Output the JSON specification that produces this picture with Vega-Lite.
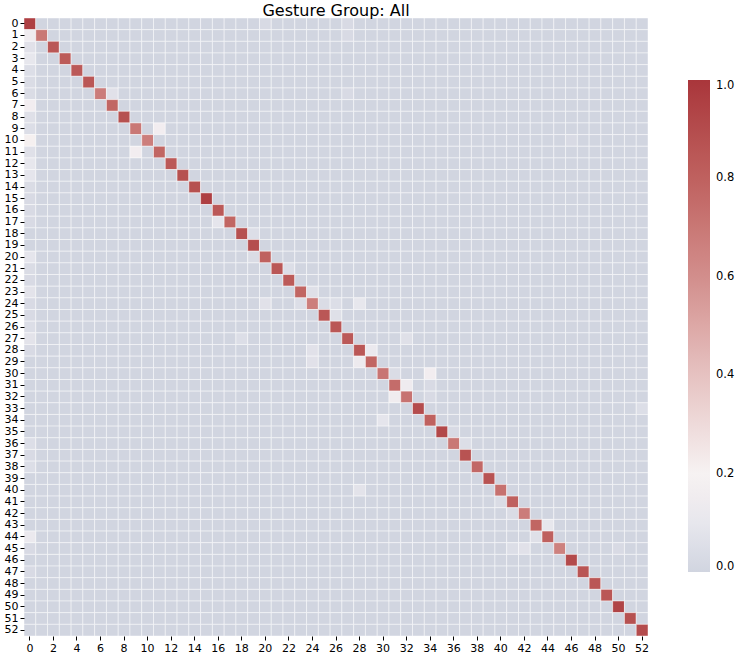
{"$schema":"https://vega.github.io/schema/vega-lite/v6.json","width":624,"height":618,"autosize":{"type":"none"},"padding":{"left":24,"top":18,"right":96,"bottom":26},"background":"white","title":{"text":"Gesture Group: All","fontSize":16,"font":"DejaVu Sans","fontWeight":"normal","color":"#000","offset":0,"dy":2},"config":{"view":{"stroke":null},"font":"DejaVu Sans"},
"data":{"values":[
{"r":0,"c":0,"v":0.96},{"r":0,"c":1,"v":0},{"r":0,"c":2,"v":0},{"r":0,"c":3,"v":0},{"r":0,"c":4,"v":0},{"r":0,"c":5,"v":0},{"r":0,"c":6,"v":0},{"r":0,"c":7,"v":0},{"r":0,"c":8,"v":0},{"r":0,"c":9,"v":0},{"r":0,"c":10,"v":0},{"r":0,"c":11,"v":0},{"r":0,"c":12,"v":0},{"r":0,"c":13,"v":0},{"r":0,"c":14,"v":0},{"r":0,"c":15,"v":0},{"r":0,"c":16,"v":0},{"r":0,"c":17,"v":0},{"r":0,"c":18,"v":0},{"r":0,"c":19,"v":0},{"r":0,"c":20,"v":0.03},{"r":0,"c":21,"v":0},{"r":0,"c":22,"v":0},{"r":0,"c":23,"v":0},{"r":0,"c":24,"v":0},{"r":0,"c":25,"v":0},{"r":0,"c":26,"v":0},{"r":0,"c":27,"v":0.03},{"r":0,"c":28,"v":0},{"r":0,"c":29,"v":0},{"r":0,"c":30,"v":0},{"r":0,"c":31,"v":0},{"r":0,"c":32,"v":0},{"r":0,"c":33,"v":0},{"r":0,"c":34,"v":0},{"r":0,"c":35,"v":0},{"r":0,"c":36,"v":0},{"r":0,"c":37,"v":0},{"r":0,"c":38,"v":0},{"r":0,"c":39,"v":0},{"r":0,"c":40,"v":0},{"r":0,"c":41,"v":0},{"r":0,"c":42,"v":0},{"r":0,"c":43,"v":0},{"r":0,"c":44,"v":0},{"r":0,"c":45,"v":0},{"r":0,"c":46,"v":0},{"r":0,"c":47,"v":0},{"r":0,"c":48,"v":0},{"r":0,"c":49,"v":0},{"r":0,"c":50,"v":0},{"r":0,"c":51,"v":0},{"r":0,"c":52,"v":0},
{"r":1,"c":0,"v":0.14},{"r":1,"c":1,"v":0.7},{"r":1,"c":2,"v":0},{"r":1,"c":3,"v":0},{"r":1,"c":4,"v":0},{"r":1,"c":5,"v":0},{"r":1,"c":6,"v":0},{"r":1,"c":7,"v":0},{"r":1,"c":8,"v":0},{"r":1,"c":9,"v":0},{"r":1,"c":10,"v":0},{"r":1,"c":11,"v":0},{"r":1,"c":12,"v":0},{"r":1,"c":13,"v":0},{"r":1,"c":14,"v":0},{"r":1,"c":15,"v":0},{"r":1,"c":16,"v":0},{"r":1,"c":17,"v":0},{"r":1,"c":18,"v":0},{"r":1,"c":19,"v":0},{"r":1,"c":20,"v":0},{"r":1,"c":21,"v":0},{"r":1,"c":22,"v":0},{"r":1,"c":23,"v":0},{"r":1,"c":24,"v":0},{"r":1,"c":25,"v":0},{"r":1,"c":26,"v":0},{"r":1,"c":27,"v":0.03},{"r":1,"c":28,"v":0},{"r":1,"c":29,"v":0},{"r":1,"c":30,"v":0},{"r":1,"c":31,"v":0},{"r":1,"c":32,"v":0},{"r":1,"c":33,"v":0},{"r":1,"c":34,"v":0},{"r":1,"c":35,"v":0},{"r":1,"c":36,"v":0},{"r":1,"c":37,"v":0},{"r":1,"c":38,"v":0},{"r":1,"c":39,"v":0},{"r":1,"c":40,"v":0},{"r":1,"c":41,"v":0},{"r":1,"c":42,"v":0},{"r":1,"c":43,"v":0},{"r":1,"c":44,"v":0},{"r":1,"c":45,"v":0},{"r":1,"c":46,"v":0},{"r":1,"c":47,"v":0},{"r":1,"c":48,"v":0},{"r":1,"c":49,"v":0},{"r":1,"c":50,"v":0},{"r":1,"c":51,"v":0},{"r":1,"c":52,"v":0},
{"r":2,"c":0,"v":0.07},{"r":2,"c":1,"v":0},{"r":2,"c":2,"v":0.85},{"r":2,"c":3,"v":0},{"r":2,"c":4,"v":0},{"r":2,"c":5,"v":0},{"r":2,"c":6,"v":0},{"r":2,"c":7,"v":0},{"r":2,"c":8,"v":0},{"r":2,"c":9,"v":0},{"r":2,"c":10,"v":0},{"r":2,"c":11,"v":0},{"r":2,"c":12,"v":0},{"r":2,"c":13,"v":0},{"r":2,"c":14,"v":0},{"r":2,"c":15,"v":0},{"r":2,"c":16,"v":0},{"r":2,"c":17,"v":0},{"r":2,"c":18,"v":0},{"r":2,"c":19,"v":0},{"r":2,"c":20,"v":0},{"r":2,"c":21,"v":0},{"r":2,"c":22,"v":0},{"r":2,"c":23,"v":0},{"r":2,"c":24,"v":0},{"r":2,"c":25,"v":0},{"r":2,"c":26,"v":0},{"r":2,"c":27,"v":0},{"r":2,"c":28,"v":0},{"r":2,"c":29,"v":0},{"r":2,"c":30,"v":0},{"r":2,"c":31,"v":0},{"r":2,"c":32,"v":0},{"r":2,"c":33,"v":0},{"r":2,"c":34,"v":0},{"r":2,"c":35,"v":0},{"r":2,"c":36,"v":0},{"r":2,"c":37,"v":0},{"r":2,"c":38,"v":0},{"r":2,"c":39,"v":0},{"r":2,"c":40,"v":0},{"r":2,"c":41,"v":0},{"r":2,"c":42,"v":0},{"r":2,"c":43,"v":0},{"r":2,"c":44,"v":0},{"r":2,"c":45,"v":0},{"r":2,"c":46,"v":0},{"r":2,"c":47,"v":0},{"r":2,"c":48,"v":0},{"r":2,"c":49,"v":0},{"r":2,"c":50,"v":0},{"r":2,"c":51,"v":0},{"r":2,"c":52,"v":0},
{"r":3,"c":0,"v":0.1},{"r":3,"c":1,"v":0},{"r":3,"c":2,"v":0},{"r":3,"c":3,"v":0.83},{"r":3,"c":4,"v":0},{"r":3,"c":5,"v":0},{"r":3,"c":6,"v":0},{"r":3,"c":7,"v":0},{"r":3,"c":8,"v":0},{"r":3,"c":9,"v":0},{"r":3,"c":10,"v":0},{"r":3,"c":11,"v":0},{"r":3,"c":12,"v":0},{"r":3,"c":13,"v":0},{"r":3,"c":14,"v":0},{"r":3,"c":15,"v":0},{"r":3,"c":16,"v":0},{"r":3,"c":17,"v":0},{"r":3,"c":18,"v":0},{"r":3,"c":19,"v":0},{"r":3,"c":20,"v":0},{"r":3,"c":21,"v":0},{"r":3,"c":22,"v":0},{"r":3,"c":23,"v":0},{"r":3,"c":24,"v":0},{"r":3,"c":25,"v":0},{"r":3,"c":26,"v":0},{"r":3,"c":27,"v":0},{"r":3,"c":28,"v":0},{"r":3,"c":29,"v":0},{"r":3,"c":30,"v":0},{"r":3,"c":31,"v":0},{"r":3,"c":32,"v":0},{"r":3,"c":33,"v":0},{"r":3,"c":34,"v":0},{"r":3,"c":35,"v":0},{"r":3,"c":36,"v":0},{"r":3,"c":37,"v":0},{"r":3,"c":38,"v":0},{"r":3,"c":39,"v":0},{"r":3,"c":40,"v":0},{"r":3,"c":41,"v":0},{"r":3,"c":42,"v":0},{"r":3,"c":43,"v":0},{"r":3,"c":44,"v":0},{"r":3,"c":45,"v":0},{"r":3,"c":46,"v":0},{"r":3,"c":47,"v":0},{"r":3,"c":48,"v":0},{"r":3,"c":49,"v":0},{"r":3,"c":50,"v":0},{"r":3,"c":51,"v":0},{"r":3,"c":52,"v":0},
{"r":4,"c":0,"v":0.05},{"r":4,"c":1,"v":0},{"r":4,"c":2,"v":0},{"r":4,"c":3,"v":0},{"r":4,"c":4,"v":0.84},{"r":4,"c":5,"v":0},{"r":4,"c":6,"v":0},{"r":4,"c":7,"v":0},{"r":4,"c":8,"v":0},{"r":4,"c":9,"v":0},{"r":4,"c":10,"v":0},{"r":4,"c":11,"v":0},{"r":4,"c":12,"v":0},{"r":4,"c":13,"v":0},{"r":4,"c":14,"v":0},{"r":4,"c":15,"v":0},{"r":4,"c":16,"v":0},{"r":4,"c":17,"v":0},{"r":4,"c":18,"v":0},{"r":4,"c":19,"v":0},{"r":4,"c":20,"v":0},{"r":4,"c":21,"v":0},{"r":4,"c":22,"v":0},{"r":4,"c":23,"v":0},{"r":4,"c":24,"v":0},{"r":4,"c":25,"v":0},{"r":4,"c":26,"v":0},{"r":4,"c":27,"v":0},{"r":4,"c":28,"v":0},{"r":4,"c":29,"v":0},{"r":4,"c":30,"v":0},{"r":4,"c":31,"v":0},{"r":4,"c":32,"v":0},{"r":4,"c":33,"v":0},{"r":4,"c":34,"v":0},{"r":4,"c":35,"v":0},{"r":4,"c":36,"v":0},{"r":4,"c":37,"v":0},{"r":4,"c":38,"v":0},{"r":4,"c":39,"v":0},{"r":4,"c":40,"v":0},{"r":4,"c":41,"v":0},{"r":4,"c":42,"v":0},{"r":4,"c":43,"v":0},{"r":4,"c":44,"v":0},{"r":4,"c":45,"v":0},{"r":4,"c":46,"v":0},{"r":4,"c":47,"v":0},{"r":4,"c":48,"v":0},{"r":4,"c":49,"v":0},{"r":4,"c":50,"v":0},{"r":4,"c":51,"v":0},{"r":4,"c":52,"v":0},
{"r":5,"c":0,"v":0.04},{"r":5,"c":1,"v":0},{"r":5,"c":2,"v":0},{"r":5,"c":3,"v":0},{"r":5,"c":4,"v":0},{"r":5,"c":5,"v":0.85},{"r":5,"c":6,"v":0},{"r":5,"c":7,"v":0},{"r":5,"c":8,"v":0},{"r":5,"c":9,"v":0},{"r":5,"c":10,"v":0},{"r":5,"c":11,"v":0},{"r":5,"c":12,"v":0},{"r":5,"c":13,"v":0},{"r":5,"c":14,"v":0},{"r":5,"c":15,"v":0},{"r":5,"c":16,"v":0},{"r":5,"c":17,"v":0},{"r":5,"c":18,"v":0},{"r":5,"c":19,"v":0},{"r":5,"c":20,"v":0},{"r":5,"c":21,"v":0},{"r":5,"c":22,"v":0},{"r":5,"c":23,"v":0},{"r":5,"c":24,"v":0},{"r":5,"c":25,"v":0},{"r":5,"c":26,"v":0},{"r":5,"c":27,"v":0},{"r":5,"c":28,"v":0},{"r":5,"c":29,"v":0},{"r":5,"c":30,"v":0},{"r":5,"c":31,"v":0},{"r":5,"c":32,"v":0},{"r":5,"c":33,"v":0},{"r":5,"c":34,"v":0},{"r":5,"c":35,"v":0},{"r":5,"c":36,"v":0},{"r":5,"c":37,"v":0},{"r":5,"c":38,"v":0},{"r":5,"c":39,"v":0},{"r":5,"c":40,"v":0},{"r":5,"c":41,"v":0},{"r":5,"c":42,"v":0},{"r":5,"c":43,"v":0},{"r":5,"c":44,"v":0},{"r":5,"c":45,"v":0},{"r":5,"c":46,"v":0},{"r":5,"c":47,"v":0},{"r":5,"c":48,"v":0},{"r":5,"c":49,"v":0},{"r":5,"c":50,"v":0},{"r":5,"c":51,"v":0},{"r":5,"c":52,"v":0},
{"r":6,"c":0,"v":0.04},{"r":6,"c":1,"v":0},{"r":6,"c":2,"v":0},{"r":6,"c":3,"v":0},{"r":6,"c":4,"v":0},{"r":6,"c":5,"v":0},{"r":6,"c":6,"v":0.68},{"r":6,"c":7,"v":0.07},{"r":6,"c":8,"v":0},{"r":6,"c":9,"v":0},{"r":6,"c":10,"v":0},{"r":6,"c":11,"v":0},{"r":6,"c":12,"v":0},{"r":6,"c":13,"v":0},{"r":6,"c":14,"v":0},{"r":6,"c":15,"v":0},{"r":6,"c":16,"v":0},{"r":6,"c":17,"v":0},{"r":6,"c":18,"v":0},{"r":6,"c":19,"v":0},{"r":6,"c":20,"v":0},{"r":6,"c":21,"v":0},{"r":6,"c":22,"v":0},{"r":6,"c":23,"v":0},{"r":6,"c":24,"v":0},{"r":6,"c":25,"v":0},{"r":6,"c":26,"v":0},{"r":6,"c":27,"v":0.03},{"r":6,"c":28,"v":0},{"r":6,"c":29,"v":0},{"r":6,"c":30,"v":0},{"r":6,"c":31,"v":0},{"r":6,"c":32,"v":0},{"r":6,"c":33,"v":0},{"r":6,"c":34,"v":0},{"r":6,"c":35,"v":0},{"r":6,"c":36,"v":0},{"r":6,"c":37,"v":0},{"r":6,"c":38,"v":0},{"r":6,"c":39,"v":0},{"r":6,"c":40,"v":0},{"r":6,"c":41,"v":0},{"r":6,"c":42,"v":0},{"r":6,"c":43,"v":0},{"r":6,"c":44,"v":0},{"r":6,"c":45,"v":0},{"r":6,"c":46,"v":0},{"r":6,"c":47,"v":0},{"r":6,"c":48,"v":0},{"r":6,"c":49,"v":0},{"r":6,"c":50,"v":0},{"r":6,"c":51,"v":0},{"r":6,"c":52,"v":0},
{"r":7,"c":0,"v":0.16},{"r":7,"c":1,"v":0},{"r":7,"c":2,"v":0},{"r":7,"c":3,"v":0},{"r":7,"c":4,"v":0},{"r":7,"c":5,"v":0},{"r":7,"c":6,"v":0},{"r":7,"c":7,"v":0.78},{"r":7,"c":8,"v":0},{"r":7,"c":9,"v":0},{"r":7,"c":10,"v":0},{"r":7,"c":11,"v":0},{"r":7,"c":12,"v":0},{"r":7,"c":13,"v":0},{"r":7,"c":14,"v":0},{"r":7,"c":15,"v":0},{"r":7,"c":16,"v":0},{"r":7,"c":17,"v":0},{"r":7,"c":18,"v":0},{"r":7,"c":19,"v":0},{"r":7,"c":20,"v":0},{"r":7,"c":21,"v":0},{"r":7,"c":22,"v":0},{"r":7,"c":23,"v":0},{"r":7,"c":24,"v":0},{"r":7,"c":25,"v":0},{"r":7,"c":26,"v":0},{"r":7,"c":27,"v":0},{"r":7,"c":28,"v":0},{"r":7,"c":29,"v":0},{"r":7,"c":30,"v":0},{"r":7,"c":31,"v":0},{"r":7,"c":32,"v":0},{"r":7,"c":33,"v":0},{"r":7,"c":34,"v":0},{"r":7,"c":35,"v":0},{"r":7,"c":36,"v":0},{"r":7,"c":37,"v":0},{"r":7,"c":38,"v":0},{"r":7,"c":39,"v":0},{"r":7,"c":40,"v":0},{"r":7,"c":41,"v":0},{"r":7,"c":42,"v":0},{"r":7,"c":43,"v":0},{"r":7,"c":44,"v":0},{"r":7,"c":45,"v":0},{"r":7,"c":46,"v":0},{"r":7,"c":47,"v":0},{"r":7,"c":48,"v":0},{"r":7,"c":49,"v":0},{"r":7,"c":50,"v":0},{"r":7,"c":51,"v":0},{"r":7,"c":52,"v":0},
{"r":8,"c":0,"v":0.06},{"r":8,"c":1,"v":0},{"r":8,"c":2,"v":0},{"r":8,"c":3,"v":0},{"r":8,"c":4,"v":0},{"r":8,"c":5,"v":0},{"r":8,"c":6,"v":0},{"r":8,"c":7,"v":0},{"r":8,"c":8,"v":0.88},{"r":8,"c":9,"v":0},{"r":8,"c":10,"v":0},{"r":8,"c":11,"v":0},{"r":8,"c":12,"v":0},{"r":8,"c":13,"v":0},{"r":8,"c":14,"v":0},{"r":8,"c":15,"v":0},{"r":8,"c":16,"v":0},{"r":8,"c":17,"v":0},{"r":8,"c":18,"v":0},{"r":8,"c":19,"v":0},{"r":8,"c":20,"v":0},{"r":8,"c":21,"v":0},{"r":8,"c":22,"v":0},{"r":8,"c":23,"v":0},{"r":8,"c":24,"v":0},{"r":8,"c":25,"v":0},{"r":8,"c":26,"v":0},{"r":8,"c":27,"v":0},{"r":8,"c":28,"v":0},{"r":8,"c":29,"v":0},{"r":8,"c":30,"v":0},{"r":8,"c":31,"v":0},{"r":8,"c":32,"v":0},{"r":8,"c":33,"v":0},{"r":8,"c":34,"v":0},{"r":8,"c":35,"v":0},{"r":8,"c":36,"v":0},{"r":8,"c":37,"v":0},{"r":8,"c":38,"v":0},{"r":8,"c":39,"v":0},{"r":8,"c":40,"v":0},{"r":8,"c":41,"v":0},{"r":8,"c":42,"v":0},{"r":8,"c":43,"v":0},{"r":8,"c":44,"v":0},{"r":8,"c":45,"v":0},{"r":8,"c":46,"v":0},{"r":8,"c":47,"v":0},{"r":8,"c":48,"v":0},{"r":8,"c":49,"v":0},{"r":8,"c":50,"v":0},{"r":8,"c":51,"v":0},{"r":8,"c":52,"v":0},
{"r":9,"c":0,"v":0.05},{"r":9,"c":1,"v":0},{"r":9,"c":2,"v":0},{"r":9,"c":3,"v":0},{"r":9,"c":4,"v":0},{"r":9,"c":5,"v":0},{"r":9,"c":6,"v":0},{"r":9,"c":7,"v":0},{"r":9,"c":8,"v":0},{"r":9,"c":9,"v":0.7},{"r":9,"c":10,"v":0},{"r":9,"c":11,"v":0.16},{"r":9,"c":12,"v":0},{"r":9,"c":13,"v":0},{"r":9,"c":14,"v":0},{"r":9,"c":15,"v":0},{"r":9,"c":16,"v":0},{"r":9,"c":17,"v":0},{"r":9,"c":18,"v":0},{"r":9,"c":19,"v":0},{"r":9,"c":20,"v":0},{"r":9,"c":21,"v":0},{"r":9,"c":22,"v":0},{"r":9,"c":23,"v":0},{"r":9,"c":24,"v":0},{"r":9,"c":25,"v":0},{"r":9,"c":26,"v":0},{"r":9,"c":27,"v":0},{"r":9,"c":28,"v":0},{"r":9,"c":29,"v":0},{"r":9,"c":30,"v":0},{"r":9,"c":31,"v":0},{"r":9,"c":32,"v":0},{"r":9,"c":33,"v":0},{"r":9,"c":34,"v":0},{"r":9,"c":35,"v":0},{"r":9,"c":36,"v":0},{"r":9,"c":37,"v":0},{"r":9,"c":38,"v":0},{"r":9,"c":39,"v":0},{"r":9,"c":40,"v":0},{"r":9,"c":41,"v":0},{"r":9,"c":42,"v":0},{"r":9,"c":43,"v":0},{"r":9,"c":44,"v":0},{"r":9,"c":45,"v":0},{"r":9,"c":46,"v":0},{"r":9,"c":47,"v":0},{"r":9,"c":48,"v":0},{"r":9,"c":49,"v":0},{"r":9,"c":50,"v":0},{"r":9,"c":51,"v":0},{"r":9,"c":52,"v":0},
{"r":10,"c":0,"v":0.21},{"r":10,"c":1,"v":0},{"r":10,"c":2,"v":0},{"r":10,"c":3,"v":0},{"r":10,"c":4,"v":0},{"r":10,"c":5,"v":0},{"r":10,"c":6,"v":0},{"r":10,"c":7,"v":0},{"r":10,"c":8,"v":0},{"r":10,"c":9,"v":0},{"r":10,"c":10,"v":0.67},{"r":10,"c":11,"v":0},{"r":10,"c":12,"v":0},{"r":10,"c":13,"v":0},{"r":10,"c":14,"v":0},{"r":10,"c":15,"v":0},{"r":10,"c":16,"v":0},{"r":10,"c":17,"v":0},{"r":10,"c":18,"v":0},{"r":10,"c":19,"v":0},{"r":10,"c":20,"v":0},{"r":10,"c":21,"v":0},{"r":10,"c":22,"v":0},{"r":10,"c":23,"v":0},{"r":10,"c":24,"v":0},{"r":10,"c":25,"v":0},{"r":10,"c":26,"v":0},{"r":10,"c":27,"v":0},{"r":10,"c":28,"v":0},{"r":10,"c":29,"v":0},{"r":10,"c":30,"v":0},{"r":10,"c":31,"v":0},{"r":10,"c":32,"v":0},{"r":10,"c":33,"v":0},{"r":10,"c":34,"v":0},{"r":10,"c":35,"v":0},{"r":10,"c":36,"v":0},{"r":10,"c":37,"v":0},{"r":10,"c":38,"v":0},{"r":10,"c":39,"v":0},{"r":10,"c":40,"v":0},{"r":10,"c":41,"v":0},{"r":10,"c":42,"v":0},{"r":10,"c":43,"v":0},{"r":10,"c":44,"v":0},{"r":10,"c":45,"v":0},{"r":10,"c":46,"v":0.03},{"r":10,"c":47,"v":0},{"r":10,"c":48,"v":0},{"r":10,"c":49,"v":0},{"r":10,"c":50,"v":0},{"r":10,"c":51,"v":0},{"r":10,"c":52,"v":0},
{"r":11,"c":0,"v":0.06},{"r":11,"c":1,"v":0},{"r":11,"c":2,"v":0},{"r":11,"c":3,"v":0},{"r":11,"c":4,"v":0},{"r":11,"c":5,"v":0},{"r":11,"c":6,"v":0},{"r":11,"c":7,"v":0},{"r":11,"c":8,"v":0},{"r":11,"c":9,"v":0.16},{"r":11,"c":10,"v":0},{"r":11,"c":11,"v":0.78},{"r":11,"c":12,"v":0},{"r":11,"c":13,"v":0},{"r":11,"c":14,"v":0},{"r":11,"c":15,"v":0},{"r":11,"c":16,"v":0},{"r":11,"c":17,"v":0},{"r":11,"c":18,"v":0},{"r":11,"c":19,"v":0},{"r":11,"c":20,"v":0},{"r":11,"c":21,"v":0},{"r":11,"c":22,"v":0},{"r":11,"c":23,"v":0},{"r":11,"c":24,"v":0},{"r":11,"c":25,"v":0},{"r":11,"c":26,"v":0},{"r":11,"c":27,"v":0},{"r":11,"c":28,"v":0},{"r":11,"c":29,"v":0},{"r":11,"c":30,"v":0},{"r":11,"c":31,"v":0},{"r":11,"c":32,"v":0},{"r":11,"c":33,"v":0},{"r":11,"c":34,"v":0},{"r":11,"c":35,"v":0},{"r":11,"c":36,"v":0},{"r":11,"c":37,"v":0},{"r":11,"c":38,"v":0},{"r":11,"c":39,"v":0},{"r":11,"c":40,"v":0},{"r":11,"c":41,"v":0},{"r":11,"c":42,"v":0},{"r":11,"c":43,"v":0},{"r":11,"c":44,"v":0},{"r":11,"c":45,"v":0},{"r":11,"c":46,"v":0},{"r":11,"c":47,"v":0},{"r":11,"c":48,"v":0},{"r":11,"c":49,"v":0},{"r":11,"c":50,"v":0},{"r":11,"c":51,"v":0},{"r":11,"c":52,"v":0},
{"r":12,"c":0,"v":0.1},{"r":12,"c":1,"v":0},{"r":12,"c":2,"v":0},{"r":12,"c":3,"v":0},{"r":12,"c":4,"v":0},{"r":12,"c":5,"v":0},{"r":12,"c":6,"v":0},{"r":12,"c":7,"v":0},{"r":12,"c":8,"v":0},{"r":12,"c":9,"v":0},{"r":12,"c":10,"v":0},{"r":12,"c":11,"v":0},{"r":12,"c":12,"v":0.84},{"r":12,"c":13,"v":0},{"r":12,"c":14,"v":0},{"r":12,"c":15,"v":0},{"r":12,"c":16,"v":0},{"r":12,"c":17,"v":0},{"r":12,"c":18,"v":0},{"r":12,"c":19,"v":0},{"r":12,"c":20,"v":0},{"r":12,"c":21,"v":0},{"r":12,"c":22,"v":0},{"r":12,"c":23,"v":0},{"r":12,"c":24,"v":0},{"r":12,"c":25,"v":0},{"r":12,"c":26,"v":0},{"r":12,"c":27,"v":0},{"r":12,"c":28,"v":0},{"r":12,"c":29,"v":0},{"r":12,"c":30,"v":0},{"r":12,"c":31,"v":0},{"r":12,"c":32,"v":0},{"r":12,"c":33,"v":0},{"r":12,"c":34,"v":0},{"r":12,"c":35,"v":0},{"r":12,"c":36,"v":0},{"r":12,"c":37,"v":0},{"r":12,"c":38,"v":0},{"r":12,"c":39,"v":0},{"r":12,"c":40,"v":0},{"r":12,"c":41,"v":0},{"r":12,"c":42,"v":0},{"r":12,"c":43,"v":0},{"r":12,"c":44,"v":0},{"r":12,"c":45,"v":0},{"r":12,"c":46,"v":0},{"r":12,"c":47,"v":0},{"r":12,"c":48,"v":0},{"r":12,"c":49,"v":0},{"r":12,"c":50,"v":0},{"r":12,"c":51,"v":0},{"r":12,"c":52,"v":0},
{"r":13,"c":0,"v":0.09},{"r":13,"c":1,"v":0},{"r":13,"c":2,"v":0},{"r":13,"c":3,"v":0},{"r":13,"c":4,"v":0},{"r":13,"c":5,"v":0},{"r":13,"c":6,"v":0},{"r":13,"c":7,"v":0},{"r":13,"c":8,"v":0},{"r":13,"c":9,"v":0},{"r":13,"c":10,"v":0},{"r":13,"c":11,"v":0},{"r":13,"c":12,"v":0},{"r":13,"c":13,"v":0.88},{"r":13,"c":14,"v":0},{"r":13,"c":15,"v":0},{"r":13,"c":16,"v":0},{"r":13,"c":17,"v":0},{"r":13,"c":18,"v":0},{"r":13,"c":19,"v":0},{"r":13,"c":20,"v":0},{"r":13,"c":21,"v":0},{"r":13,"c":22,"v":0},{"r":13,"c":23,"v":0},{"r":13,"c":24,"v":0},{"r":13,"c":25,"v":0},{"r":13,"c":26,"v":0},{"r":13,"c":27,"v":0},{"r":13,"c":28,"v":0},{"r":13,"c":29,"v":0},{"r":13,"c":30,"v":0},{"r":13,"c":31,"v":0},{"r":13,"c":32,"v":0},{"r":13,"c":33,"v":0},{"r":13,"c":34,"v":0},{"r":13,"c":35,"v":0},{"r":13,"c":36,"v":0},{"r":13,"c":37,"v":0},{"r":13,"c":38,"v":0},{"r":13,"c":39,"v":0},{"r":13,"c":40,"v":0},{"r":13,"c":41,"v":0},{"r":13,"c":42,"v":0},{"r":13,"c":43,"v":0},{"r":13,"c":44,"v":0},{"r":13,"c":45,"v":0},{"r":13,"c":46,"v":0},{"r":13,"c":47,"v":0},{"r":13,"c":48,"v":0},{"r":13,"c":49,"v":0},{"r":13,"c":50,"v":0},{"r":13,"c":51,"v":0},{"r":13,"c":52,"v":0},
{"r":14,"c":0,"v":0.04},{"r":14,"c":1,"v":0},{"r":14,"c":2,"v":0},{"r":14,"c":3,"v":0},{"r":14,"c":4,"v":0},{"r":14,"c":5,"v":0},{"r":14,"c":6,"v":0},{"r":14,"c":7,"v":0},{"r":14,"c":8,"v":0},{"r":14,"c":9,"v":0},{"r":14,"c":10,"v":0},{"r":14,"c":11,"v":0},{"r":14,"c":12,"v":0},{"r":14,"c":13,"v":0},{"r":14,"c":14,"v":0.88},{"r":14,"c":15,"v":0},{"r":14,"c":16,"v":0},{"r":14,"c":17,"v":0},{"r":14,"c":18,"v":0},{"r":14,"c":19,"v":0},{"r":14,"c":20,"v":0},{"r":14,"c":21,"v":0},{"r":14,"c":22,"v":0},{"r":14,"c":23,"v":0},{"r":14,"c":24,"v":0},{"r":14,"c":25,"v":0},{"r":14,"c":26,"v":0},{"r":14,"c":27,"v":0},{"r":14,"c":28,"v":0},{"r":14,"c":29,"v":0},{"r":14,"c":30,"v":0},{"r":14,"c":31,"v":0},{"r":14,"c":32,"v":0},{"r":14,"c":33,"v":0},{"r":14,"c":34,"v":0},{"r":14,"c":35,"v":0},{"r":14,"c":36,"v":0},{"r":14,"c":37,"v":0},{"r":14,"c":38,"v":0},{"r":14,"c":39,"v":0},{"r":14,"c":40,"v":0},{"r":14,"c":41,"v":0},{"r":14,"c":42,"v":0},{"r":14,"c":43,"v":0},{"r":14,"c":44,"v":0},{"r":14,"c":45,"v":0},{"r":14,"c":46,"v":0},{"r":14,"c":47,"v":0},{"r":14,"c":48,"v":0},{"r":14,"c":49,"v":0},{"r":14,"c":50,"v":0},{"r":14,"c":51,"v":0},{"r":14,"c":52,"v":0},
{"r":15,"c":0,"v":0.03},{"r":15,"c":1,"v":0},{"r":15,"c":2,"v":0},{"r":15,"c":3,"v":0},{"r":15,"c":4,"v":0},{"r":15,"c":5,"v":0},{"r":15,"c":6,"v":0},{"r":15,"c":7,"v":0},{"r":15,"c":8,"v":0},{"r":15,"c":9,"v":0},{"r":15,"c":10,"v":0},{"r":15,"c":11,"v":0},{"r":15,"c":12,"v":0},{"r":15,"c":13,"v":0},{"r":15,"c":14,"v":0},{"r":15,"c":15,"v":0.96},{"r":15,"c":16,"v":0},{"r":15,"c":17,"v":0},{"r":15,"c":18,"v":0},{"r":15,"c":19,"v":0},{"r":15,"c":20,"v":0},{"r":15,"c":21,"v":0},{"r":15,"c":22,"v":0},{"r":15,"c":23,"v":0},{"r":15,"c":24,"v":0},{"r":15,"c":25,"v":0},{"r":15,"c":26,"v":0},{"r":15,"c":27,"v":0},{"r":15,"c":28,"v":0},{"r":15,"c":29,"v":0},{"r":15,"c":30,"v":0},{"r":15,"c":31,"v":0},{"r":15,"c":32,"v":0},{"r":15,"c":33,"v":0},{"r":15,"c":34,"v":0},{"r":15,"c":35,"v":0},{"r":15,"c":36,"v":0},{"r":15,"c":37,"v":0},{"r":15,"c":38,"v":0},{"r":15,"c":39,"v":0},{"r":15,"c":40,"v":0},{"r":15,"c":41,"v":0},{"r":15,"c":42,"v":0},{"r":15,"c":43,"v":0},{"r":15,"c":44,"v":0},{"r":15,"c":45,"v":0},{"r":15,"c":46,"v":0},{"r":15,"c":47,"v":0},{"r":15,"c":48,"v":0},{"r":15,"c":49,"v":0},{"r":15,"c":50,"v":0},{"r":15,"c":51,"v":0},{"r":15,"c":52,"v":0},
{"r":16,"c":0,"v":0.03},{"r":16,"c":1,"v":0},{"r":16,"c":2,"v":0},{"r":16,"c":3,"v":0},{"r":16,"c":4,"v":0},{"r":16,"c":5,"v":0},{"r":16,"c":6,"v":0},{"r":16,"c":7,"v":0},{"r":16,"c":8,"v":0},{"r":16,"c":9,"v":0},{"r":16,"c":10,"v":0},{"r":16,"c":11,"v":0},{"r":16,"c":12,"v":0},{"r":16,"c":13,"v":0},{"r":16,"c":14,"v":0},{"r":16,"c":15,"v":0},{"r":16,"c":16,"v":0.84},{"r":16,"c":17,"v":0},{"r":16,"c":18,"v":0},{"r":16,"c":19,"v":0},{"r":16,"c":20,"v":0},{"r":16,"c":21,"v":0},{"r":16,"c":22,"v":0},{"r":16,"c":23,"v":0},{"r":16,"c":24,"v":0},{"r":16,"c":25,"v":0},{"r":16,"c":26,"v":0},{"r":16,"c":27,"v":0},{"r":16,"c":28,"v":0},{"r":16,"c":29,"v":0},{"r":16,"c":30,"v":0},{"r":16,"c":31,"v":0},{"r":16,"c":32,"v":0},{"r":16,"c":33,"v":0},{"r":16,"c":34,"v":0},{"r":16,"c":35,"v":0},{"r":16,"c":36,"v":0},{"r":16,"c":37,"v":0},{"r":16,"c":38,"v":0},{"r":16,"c":39,"v":0},{"r":16,"c":40,"v":0},{"r":16,"c":41,"v":0},{"r":16,"c":42,"v":0},{"r":16,"c":43,"v":0},{"r":16,"c":44,"v":0},{"r":16,"c":45,"v":0},{"r":16,"c":46,"v":0},{"r":16,"c":47,"v":0},{"r":16,"c":48,"v":0},{"r":16,"c":49,"v":0},{"r":16,"c":50,"v":0},{"r":16,"c":51,"v":0},{"r":16,"c":52,"v":0},
{"r":17,"c":0,"v":0.03},{"r":17,"c":1,"v":0},{"r":17,"c":2,"v":0},{"r":17,"c":3,"v":0},{"r":17,"c":4,"v":0},{"r":17,"c":5,"v":0},{"r":17,"c":6,"v":0},{"r":17,"c":7,"v":0},{"r":17,"c":8,"v":0},{"r":17,"c":9,"v":0},{"r":17,"c":10,"v":0},{"r":17,"c":11,"v":0},{"r":17,"c":12,"v":0},{"r":17,"c":13,"v":0},{"r":17,"c":14,"v":0},{"r":17,"c":15,"v":0},{"r":17,"c":16,"v":0.09},{"r":17,"c":17,"v":0.78},{"r":17,"c":18,"v":0},{"r":17,"c":19,"v":0},{"r":17,"c":20,"v":0},{"r":17,"c":21,"v":0},{"r":17,"c":22,"v":0},{"r":17,"c":23,"v":0},{"r":17,"c":24,"v":0},{"r":17,"c":25,"v":0},{"r":17,"c":26,"v":0},{"r":17,"c":27,"v":0},{"r":17,"c":28,"v":0},{"r":17,"c":29,"v":0},{"r":17,"c":30,"v":0},{"r":17,"c":31,"v":0},{"r":17,"c":32,"v":0},{"r":17,"c":33,"v":0},{"r":17,"c":34,"v":0},{"r":17,"c":35,"v":0},{"r":17,"c":36,"v":0},{"r":17,"c":37,"v":0},{"r":17,"c":38,"v":0},{"r":17,"c":39,"v":0},{"r":17,"c":40,"v":0},{"r":17,"c":41,"v":0},{"r":17,"c":42,"v":0},{"r":17,"c":43,"v":0},{"r":17,"c":44,"v":0},{"r":17,"c":45,"v":0},{"r":17,"c":46,"v":0},{"r":17,"c":47,"v":0},{"r":17,"c":48,"v":0},{"r":17,"c":49,"v":0},{"r":17,"c":50,"v":0},{"r":17,"c":51,"v":0},{"r":17,"c":52,"v":0},
{"r":18,"c":0,"v":0},{"r":18,"c":1,"v":0},{"r":18,"c":2,"v":0},{"r":18,"c":3,"v":0},{"r":18,"c":4,"v":0},{"r":18,"c":5,"v":0},{"r":18,"c":6,"v":0},{"r":18,"c":7,"v":0},{"r":18,"c":8,"v":0},{"r":18,"c":9,"v":0},{"r":18,"c":10,"v":0},{"r":18,"c":11,"v":0},{"r":18,"c":12,"v":0},{"r":18,"c":13,"v":0},{"r":18,"c":14,"v":0},{"r":18,"c":15,"v":0},{"r":18,"c":16,"v":0},{"r":18,"c":17,"v":0},{"r":18,"c":18,"v":0.88},{"r":18,"c":19,"v":0.05},{"r":18,"c":20,"v":0},{"r":18,"c":21,"v":0},{"r":18,"c":22,"v":0},{"r":18,"c":23,"v":0},{"r":18,"c":24,"v":0},{"r":18,"c":25,"v":0},{"r":18,"c":26,"v":0},{"r":18,"c":27,"v":0},{"r":18,"c":28,"v":0},{"r":18,"c":29,"v":0},{"r":18,"c":30,"v":0},{"r":18,"c":31,"v":0},{"r":18,"c":32,"v":0},{"r":18,"c":33,"v":0},{"r":18,"c":34,"v":0},{"r":18,"c":35,"v":0},{"r":18,"c":36,"v":0},{"r":18,"c":37,"v":0},{"r":18,"c":38,"v":0},{"r":18,"c":39,"v":0},{"r":18,"c":40,"v":0},{"r":18,"c":41,"v":0},{"r":18,"c":42,"v":0},{"r":18,"c":43,"v":0},{"r":18,"c":44,"v":0},{"r":18,"c":45,"v":0},{"r":18,"c":46,"v":0},{"r":18,"c":47,"v":0},{"r":18,"c":48,"v":0},{"r":18,"c":49,"v":0},{"r":18,"c":50,"v":0},{"r":18,"c":51,"v":0},{"r":18,"c":52,"v":0},
{"r":19,"c":0,"v":0},{"r":19,"c":1,"v":0},{"r":19,"c":2,"v":0},{"r":19,"c":3,"v":0},{"r":19,"c":4,"v":0},{"r":19,"c":5,"v":0},{"r":19,"c":6,"v":0},{"r":19,"c":7,"v":0},{"r":19,"c":8,"v":0},{"r":19,"c":9,"v":0},{"r":19,"c":10,"v":0},{"r":19,"c":11,"v":0},{"r":19,"c":12,"v":0},{"r":19,"c":13,"v":0},{"r":19,"c":14,"v":0},{"r":19,"c":15,"v":0},{"r":19,"c":16,"v":0},{"r":19,"c":17,"v":0},{"r":19,"c":18,"v":0},{"r":19,"c":19,"v":0.89},{"r":19,"c":20,"v":0},{"r":19,"c":21,"v":0},{"r":19,"c":22,"v":0},{"r":19,"c":23,"v":0},{"r":19,"c":24,"v":0},{"r":19,"c":25,"v":0},{"r":19,"c":26,"v":0},{"r":19,"c":27,"v":0},{"r":19,"c":28,"v":0},{"r":19,"c":29,"v":0},{"r":19,"c":30,"v":0},{"r":19,"c":31,"v":0},{"r":19,"c":32,"v":0},{"r":19,"c":33,"v":0},{"r":19,"c":34,"v":0},{"r":19,"c":35,"v":0},{"r":19,"c":36,"v":0},{"r":19,"c":37,"v":0},{"r":19,"c":38,"v":0},{"r":19,"c":39,"v":0},{"r":19,"c":40,"v":0},{"r":19,"c":41,"v":0},{"r":19,"c":42,"v":0},{"r":19,"c":43,"v":0},{"r":19,"c":44,"v":0},{"r":19,"c":45,"v":0},{"r":19,"c":46,"v":0},{"r":19,"c":47,"v":0},{"r":19,"c":48,"v":0},{"r":19,"c":49,"v":0},{"r":19,"c":50,"v":0},{"r":19,"c":51,"v":0},{"r":19,"c":52,"v":0},
{"r":20,"c":0,"v":0.09},{"r":20,"c":1,"v":0},{"r":20,"c":2,"v":0},{"r":20,"c":3,"v":0},{"r":20,"c":4,"v":0},{"r":20,"c":5,"v":0},{"r":20,"c":6,"v":0},{"r":20,"c":7,"v":0},{"r":20,"c":8,"v":0},{"r":20,"c":9,"v":0},{"r":20,"c":10,"v":0},{"r":20,"c":11,"v":0},{"r":20,"c":12,"v":0},{"r":20,"c":13,"v":0},{"r":20,"c":14,"v":0},{"r":20,"c":15,"v":0},{"r":20,"c":16,"v":0},{"r":20,"c":17,"v":0},{"r":20,"c":18,"v":0},{"r":20,"c":19,"v":0.04},{"r":20,"c":20,"v":0.8},{"r":20,"c":21,"v":0},{"r":20,"c":22,"v":0},{"r":20,"c":23,"v":0},{"r":20,"c":24,"v":0},{"r":20,"c":25,"v":0},{"r":20,"c":26,"v":0},{"r":20,"c":27,"v":0},{"r":20,"c":28,"v":0},{"r":20,"c":29,"v":0},{"r":20,"c":30,"v":0},{"r":20,"c":31,"v":0},{"r":20,"c":32,"v":0},{"r":20,"c":33,"v":0},{"r":20,"c":34,"v":0},{"r":20,"c":35,"v":0},{"r":20,"c":36,"v":0},{"r":20,"c":37,"v":0},{"r":20,"c":38,"v":0},{"r":20,"c":39,"v":0},{"r":20,"c":40,"v":0},{"r":20,"c":41,"v":0},{"r":20,"c":42,"v":0},{"r":20,"c":43,"v":0},{"r":20,"c":44,"v":0},{"r":20,"c":45,"v":0},{"r":20,"c":46,"v":0},{"r":20,"c":47,"v":0},{"r":20,"c":48,"v":0},{"r":20,"c":49,"v":0},{"r":20,"c":50,"v":0},{"r":20,"c":51,"v":0},{"r":20,"c":52,"v":0},
{"r":21,"c":0,"v":0.04},{"r":21,"c":1,"v":0},{"r":21,"c":2,"v":0},{"r":21,"c":3,"v":0},{"r":21,"c":4,"v":0},{"r":21,"c":5,"v":0},{"r":21,"c":6,"v":0},{"r":21,"c":7,"v":0},{"r":21,"c":8,"v":0},{"r":21,"c":9,"v":0},{"r":21,"c":10,"v":0},{"r":21,"c":11,"v":0},{"r":21,"c":12,"v":0},{"r":21,"c":13,"v":0},{"r":21,"c":14,"v":0},{"r":21,"c":15,"v":0},{"r":21,"c":16,"v":0},{"r":21,"c":17,"v":0},{"r":21,"c":18,"v":0},{"r":21,"c":19,"v":0},{"r":21,"c":20,"v":0},{"r":21,"c":21,"v":0.85},{"r":21,"c":22,"v":0.05},{"r":21,"c":23,"v":0},{"r":21,"c":24,"v":0},{"r":21,"c":25,"v":0},{"r":21,"c":26,"v":0},{"r":21,"c":27,"v":0},{"r":21,"c":28,"v":0},{"r":21,"c":29,"v":0},{"r":21,"c":30,"v":0},{"r":21,"c":31,"v":0},{"r":21,"c":32,"v":0},{"r":21,"c":33,"v":0},{"r":21,"c":34,"v":0},{"r":21,"c":35,"v":0},{"r":21,"c":36,"v":0},{"r":21,"c":37,"v":0},{"r":21,"c":38,"v":0},{"r":21,"c":39,"v":0},{"r":21,"c":40,"v":0},{"r":21,"c":41,"v":0},{"r":21,"c":42,"v":0},{"r":21,"c":43,"v":0},{"r":21,"c":44,"v":0},{"r":21,"c":45,"v":0},{"r":21,"c":46,"v":0},{"r":21,"c":47,"v":0},{"r":21,"c":48,"v":0},{"r":21,"c":49,"v":0},{"r":21,"c":50,"v":0},{"r":21,"c":51,"v":0},{"r":21,"c":52,"v":0},
{"r":22,"c":0,"v":0.03},{"r":22,"c":1,"v":0},{"r":22,"c":2,"v":0},{"r":22,"c":3,"v":0},{"r":22,"c":4,"v":0},{"r":22,"c":5,"v":0},{"r":22,"c":6,"v":0},{"r":22,"c":7,"v":0},{"r":22,"c":8,"v":0},{"r":22,"c":9,"v":0},{"r":22,"c":10,"v":0},{"r":22,"c":11,"v":0},{"r":22,"c":12,"v":0},{"r":22,"c":13,"v":0},{"r":22,"c":14,"v":0},{"r":22,"c":15,"v":0},{"r":22,"c":16,"v":0},{"r":22,"c":17,"v":0},{"r":22,"c":18,"v":0},{"r":22,"c":19,"v":0},{"r":22,"c":20,"v":0},{"r":22,"c":21,"v":0},{"r":22,"c":22,"v":0.83},{"r":22,"c":23,"v":0},{"r":22,"c":24,"v":0},{"r":22,"c":25,"v":0},{"r":22,"c":26,"v":0},{"r":22,"c":27,"v":0},{"r":22,"c":28,"v":0},{"r":22,"c":29,"v":0},{"r":22,"c":30,"v":0},{"r":22,"c":31,"v":0},{"r":22,"c":32,"v":0},{"r":22,"c":33,"v":0},{"r":22,"c":34,"v":0},{"r":22,"c":35,"v":0},{"r":22,"c":36,"v":0},{"r":22,"c":37,"v":0},{"r":22,"c":38,"v":0},{"r":22,"c":39,"v":0},{"r":22,"c":40,"v":0},{"r":22,"c":41,"v":0},{"r":22,"c":42,"v":0},{"r":22,"c":43,"v":0},{"r":22,"c":44,"v":0},{"r":22,"c":45,"v":0},{"r":22,"c":46,"v":0},{"r":22,"c":47,"v":0},{"r":22,"c":48,"v":0},{"r":22,"c":49,"v":0},{"r":22,"c":50,"v":0},{"r":22,"c":51,"v":0},{"r":22,"c":52,"v":0},
{"r":23,"c":0,"v":0.08},{"r":23,"c":1,"v":0},{"r":23,"c":2,"v":0},{"r":23,"c":3,"v":0},{"r":23,"c":4,"v":0},{"r":23,"c":5,"v":0},{"r":23,"c":6,"v":0},{"r":23,"c":7,"v":0},{"r":23,"c":8,"v":0},{"r":23,"c":9,"v":0},{"r":23,"c":10,"v":0},{"r":23,"c":11,"v":0},{"r":23,"c":12,"v":0},{"r":23,"c":13,"v":0},{"r":23,"c":14,"v":0},{"r":23,"c":15,"v":0},{"r":23,"c":16,"v":0},{"r":23,"c":17,"v":0},{"r":23,"c":18,"v":0},{"r":23,"c":19,"v":0},{"r":23,"c":20,"v":0},{"r":23,"c":21,"v":0},{"r":23,"c":22,"v":0},{"r":23,"c":23,"v":0.78},{"r":23,"c":24,"v":0.06},{"r":23,"c":25,"v":0},{"r":23,"c":26,"v":0},{"r":23,"c":27,"v":0},{"r":23,"c":28,"v":0},{"r":23,"c":29,"v":0},{"r":23,"c":30,"v":0},{"r":23,"c":31,"v":0},{"r":23,"c":32,"v":0},{"r":23,"c":33,"v":0},{"r":23,"c":34,"v":0},{"r":23,"c":35,"v":0},{"r":23,"c":36,"v":0},{"r":23,"c":37,"v":0},{"r":23,"c":38,"v":0},{"r":23,"c":39,"v":0},{"r":23,"c":40,"v":0},{"r":23,"c":41,"v":0},{"r":23,"c":42,"v":0},{"r":23,"c":43,"v":0},{"r":23,"c":44,"v":0},{"r":23,"c":45,"v":0},{"r":23,"c":46,"v":0},{"r":23,"c":47,"v":0},{"r":23,"c":48,"v":0},{"r":23,"c":49,"v":0},{"r":23,"c":50,"v":0},{"r":23,"c":51,"v":0},{"r":23,"c":52,"v":0},
{"r":24,"c":0,"v":0.03},{"r":24,"c":1,"v":0},{"r":24,"c":2,"v":0},{"r":24,"c":3,"v":0},{"r":24,"c":4,"v":0},{"r":24,"c":5,"v":0},{"r":24,"c":6,"v":0},{"r":24,"c":7,"v":0},{"r":24,"c":8,"v":0},{"r":24,"c":9,"v":0},{"r":24,"c":10,"v":0},{"r":24,"c":11,"v":0},{"r":24,"c":12,"v":0},{"r":24,"c":13,"v":0},{"r":24,"c":14,"v":0},{"r":24,"c":15,"v":0},{"r":24,"c":16,"v":0},{"r":24,"c":17,"v":0},{"r":24,"c":18,"v":0},{"r":24,"c":19,"v":0},{"r":24,"c":20,"v":0.07},{"r":24,"c":21,"v":0},{"r":24,"c":22,"v":0},{"r":24,"c":23,"v":0.05},{"r":24,"c":24,"v":0.67},{"r":24,"c":25,"v":0.04},{"r":24,"c":26,"v":0.05},{"r":24,"c":27,"v":0},{"r":24,"c":28,"v":0.1},{"r":24,"c":29,"v":0},{"r":24,"c":30,"v":0},{"r":24,"c":31,"v":0},{"r":24,"c":32,"v":0},{"r":24,"c":33,"v":0},{"r":24,"c":34,"v":0},{"r":24,"c":35,"v":0},{"r":24,"c":36,"v":0},{"r":24,"c":37,"v":0},{"r":24,"c":38,"v":0},{"r":24,"c":39,"v":0},{"r":24,"c":40,"v":0},{"r":24,"c":41,"v":0},{"r":24,"c":42,"v":0},{"r":24,"c":43,"v":0},{"r":24,"c":44,"v":0},{"r":24,"c":45,"v":0},{"r":24,"c":46,"v":0},{"r":24,"c":47,"v":0},{"r":24,"c":48,"v":0},{"r":24,"c":49,"v":0},{"r":24,"c":50,"v":0},{"r":24,"c":51,"v":0},{"r":24,"c":52,"v":0},
{"r":25,"c":0,"v":0.03},{"r":25,"c":1,"v":0},{"r":25,"c":2,"v":0},{"r":25,"c":3,"v":0},{"r":25,"c":4,"v":0},{"r":25,"c":5,"v":0},{"r":25,"c":6,"v":0},{"r":25,"c":7,"v":0},{"r":25,"c":8,"v":0},{"r":25,"c":9,"v":0},{"r":25,"c":10,"v":0},{"r":25,"c":11,"v":0},{"r":25,"c":12,"v":0},{"r":25,"c":13,"v":0},{"r":25,"c":14,"v":0},{"r":25,"c":15,"v":0},{"r":25,"c":16,"v":0},{"r":25,"c":17,"v":0},{"r":25,"c":18,"v":0},{"r":25,"c":19,"v":0},{"r":25,"c":20,"v":0},{"r":25,"c":21,"v":0},{"r":25,"c":22,"v":0},{"r":25,"c":23,"v":0},{"r":25,"c":24,"v":0},{"r":25,"c":25,"v":0.85},{"r":25,"c":26,"v":0.06},{"r":25,"c":27,"v":0},{"r":25,"c":28,"v":0},{"r":25,"c":29,"v":0},{"r":25,"c":30,"v":0},{"r":25,"c":31,"v":0},{"r":25,"c":32,"v":0},{"r":25,"c":33,"v":0},{"r":25,"c":34,"v":0},{"r":25,"c":35,"v":0},{"r":25,"c":36,"v":0},{"r":25,"c":37,"v":0},{"r":25,"c":38,"v":0},{"r":25,"c":39,"v":0},{"r":25,"c":40,"v":0},{"r":25,"c":41,"v":0},{"r":25,"c":42,"v":0},{"r":25,"c":43,"v":0},{"r":25,"c":44,"v":0},{"r":25,"c":45,"v":0},{"r":25,"c":46,"v":0},{"r":25,"c":47,"v":0},{"r":25,"c":48,"v":0},{"r":25,"c":49,"v":0},{"r":25,"c":50,"v":0},{"r":25,"c":51,"v":0},{"r":25,"c":52,"v":0},
{"r":26,"c":0,"v":0.05},{"r":26,"c":1,"v":0},{"r":26,"c":2,"v":0},{"r":26,"c":3,"v":0},{"r":26,"c":4,"v":0},{"r":26,"c":5,"v":0},{"r":26,"c":6,"v":0},{"r":26,"c":7,"v":0},{"r":26,"c":8,"v":0},{"r":26,"c":9,"v":0},{"r":26,"c":10,"v":0},{"r":26,"c":11,"v":0},{"r":26,"c":12,"v":0},{"r":26,"c":13,"v":0},{"r":26,"c":14,"v":0},{"r":26,"c":15,"v":0},{"r":26,"c":16,"v":0},{"r":26,"c":17,"v":0},{"r":26,"c":18,"v":0},{"r":26,"c":19,"v":0},{"r":26,"c":20,"v":0},{"r":26,"c":21,"v":0},{"r":26,"c":22,"v":0},{"r":26,"c":23,"v":0},{"r":26,"c":24,"v":0},{"r":26,"c":25,"v":0},{"r":26,"c":26,"v":0.85},{"r":26,"c":27,"v":0},{"r":26,"c":28,"v":0},{"r":26,"c":29,"v":0},{"r":26,"c":30,"v":0},{"r":26,"c":31,"v":0},{"r":26,"c":32,"v":0},{"r":26,"c":33,"v":0},{"r":26,"c":34,"v":0},{"r":26,"c":35,"v":0},{"r":26,"c":36,"v":0},{"r":26,"c":37,"v":0},{"r":26,"c":38,"v":0},{"r":26,"c":39,"v":0},{"r":26,"c":40,"v":0},{"r":26,"c":41,"v":0},{"r":26,"c":42,"v":0},{"r":26,"c":43,"v":0},{"r":26,"c":44,"v":0},{"r":26,"c":45,"v":0},{"r":26,"c":46,"v":0},{"r":26,"c":47,"v":0},{"r":26,"c":48,"v":0},{"r":26,"c":49,"v":0},{"r":26,"c":50,"v":0},{"r":26,"c":51,"v":0},{"r":26,"c":52,"v":0},
{"r":27,"c":0,"v":0.08},{"r":27,"c":1,"v":0},{"r":27,"c":2,"v":0},{"r":27,"c":3,"v":0},{"r":27,"c":4,"v":0},{"r":27,"c":5,"v":0},{"r":27,"c":6,"v":0},{"r":27,"c":7,"v":0},{"r":27,"c":8,"v":0},{"r":27,"c":9,"v":0},{"r":27,"c":10,"v":0},{"r":27,"c":11,"v":0},{"r":27,"c":12,"v":0},{"r":27,"c":13,"v":0},{"r":27,"c":14,"v":0},{"r":27,"c":15,"v":0},{"r":27,"c":16,"v":0},{"r":27,"c":17,"v":0},{"r":27,"c":18,"v":0.05},{"r":27,"c":19,"v":0},{"r":27,"c":20,"v":0},{"r":27,"c":21,"v":0},{"r":27,"c":22,"v":0},{"r":27,"c":23,"v":0},{"r":27,"c":24,"v":0},{"r":27,"c":25,"v":0},{"r":27,"c":26,"v":0},{"r":27,"c":27,"v":0.84},{"r":27,"c":28,"v":0},{"r":27,"c":29,"v":0},{"r":27,"c":30,"v":0},{"r":27,"c":31,"v":0},{"r":27,"c":32,"v":0.06},{"r":27,"c":33,"v":0},{"r":27,"c":34,"v":0},{"r":27,"c":35,"v":0},{"r":27,"c":36,"v":0},{"r":27,"c":37,"v":0},{"r":27,"c":38,"v":0},{"r":27,"c":39,"v":0},{"r":27,"c":40,"v":0},{"r":27,"c":41,"v":0},{"r":27,"c":42,"v":0},{"r":27,"c":43,"v":0},{"r":27,"c":44,"v":0},{"r":27,"c":45,"v":0},{"r":27,"c":46,"v":0},{"r":27,"c":47,"v":0},{"r":27,"c":48,"v":0},{"r":27,"c":49,"v":0},{"r":27,"c":50,"v":0},{"r":27,"c":51,"v":0},{"r":27,"c":52,"v":0},
{"r":28,"c":0,"v":0.03},{"r":28,"c":1,"v":0},{"r":28,"c":2,"v":0},{"r":28,"c":3,"v":0},{"r":28,"c":4,"v":0},{"r":28,"c":5,"v":0},{"r":28,"c":6,"v":0},{"r":28,"c":7,"v":0},{"r":28,"c":8,"v":0},{"r":28,"c":9,"v":0},{"r":28,"c":10,"v":0},{"r":28,"c":11,"v":0},{"r":28,"c":12,"v":0},{"r":28,"c":13,"v":0},{"r":28,"c":14,"v":0},{"r":28,"c":15,"v":0},{"r":28,"c":16,"v":0},{"r":28,"c":17,"v":0},{"r":28,"c":18,"v":0},{"r":28,"c":19,"v":0},{"r":28,"c":20,"v":0},{"r":28,"c":21,"v":0},{"r":28,"c":22,"v":0},{"r":28,"c":23,"v":0},{"r":28,"c":24,"v":0.07},{"r":28,"c":25,"v":0},{"r":28,"c":26,"v":0},{"r":28,"c":27,"v":0},{"r":28,"c":28,"v":0.85},{"r":28,"c":29,"v":0.12},{"r":28,"c":30,"v":0},{"r":28,"c":31,"v":0},{"r":28,"c":32,"v":0},{"r":28,"c":33,"v":0},{"r":28,"c":34,"v":0},{"r":28,"c":35,"v":0},{"r":28,"c":36,"v":0},{"r":28,"c":37,"v":0},{"r":28,"c":38,"v":0},{"r":28,"c":39,"v":0},{"r":28,"c":40,"v":0},{"r":28,"c":41,"v":0},{"r":28,"c":42,"v":0},{"r":28,"c":43,"v":0},{"r":28,"c":44,"v":0},{"r":28,"c":45,"v":0},{"r":28,"c":46,"v":0},{"r":28,"c":47,"v":0},{"r":28,"c":48,"v":0},{"r":28,"c":49,"v":0},{"r":28,"c":50,"v":0},{"r":28,"c":51,"v":0},{"r":28,"c":52,"v":0},
{"r":29,"c":0,"v":0},{"r":29,"c":1,"v":0},{"r":29,"c":2,"v":0},{"r":29,"c":3,"v":0},{"r":29,"c":4,"v":0},{"r":29,"c":5,"v":0},{"r":29,"c":6,"v":0},{"r":29,"c":7,"v":0},{"r":29,"c":8,"v":0},{"r":29,"c":9,"v":0},{"r":29,"c":10,"v":0},{"r":29,"c":11,"v":0},{"r":29,"c":12,"v":0},{"r":29,"c":13,"v":0},{"r":29,"c":14,"v":0},{"r":29,"c":15,"v":0},{"r":29,"c":16,"v":0},{"r":29,"c":17,"v":0},{"r":29,"c":18,"v":0},{"r":29,"c":19,"v":0},{"r":29,"c":20,"v":0},{"r":29,"c":21,"v":0},{"r":29,"c":22,"v":0},{"r":29,"c":23,"v":0},{"r":29,"c":24,"v":0.07},{"r":29,"c":25,"v":0},{"r":29,"c":26,"v":0},{"r":29,"c":27,"v":0},{"r":29,"c":28,"v":0.13},{"r":29,"c":29,"v":0.78},{"r":29,"c":30,"v":0},{"r":29,"c":31,"v":0},{"r":29,"c":32,"v":0},{"r":29,"c":33,"v":0},{"r":29,"c":34,"v":0},{"r":29,"c":35,"v":0},{"r":29,"c":36,"v":0},{"r":29,"c":37,"v":0},{"r":29,"c":38,"v":0},{"r":29,"c":39,"v":0},{"r":29,"c":40,"v":0},{"r":29,"c":41,"v":0},{"r":29,"c":42,"v":0},{"r":29,"c":43,"v":0},{"r":29,"c":44,"v":0},{"r":29,"c":45,"v":0},{"r":29,"c":46,"v":0},{"r":29,"c":47,"v":0},{"r":29,"c":48,"v":0},{"r":29,"c":49,"v":0},{"r":29,"c":50,"v":0},{"r":29,"c":51,"v":0},{"r":29,"c":52,"v":0},
{"r":30,"c":0,"v":0},{"r":30,"c":1,"v":0},{"r":30,"c":2,"v":0},{"r":30,"c":3,"v":0},{"r":30,"c":4,"v":0},{"r":30,"c":5,"v":0},{"r":30,"c":6,"v":0},{"r":30,"c":7,"v":0},{"r":30,"c":8,"v":0},{"r":30,"c":9,"v":0},{"r":30,"c":10,"v":0},{"r":30,"c":11,"v":0},{"r":30,"c":12,"v":0},{"r":30,"c":13,"v":0},{"r":30,"c":14,"v":0},{"r":30,"c":15,"v":0},{"r":30,"c":16,"v":0},{"r":30,"c":17,"v":0},{"r":30,"c":18,"v":0},{"r":30,"c":19,"v":0},{"r":30,"c":20,"v":0},{"r":30,"c":21,"v":0},{"r":30,"c":22,"v":0},{"r":30,"c":23,"v":0},{"r":30,"c":24,"v":0},{"r":30,"c":25,"v":0},{"r":30,"c":26,"v":0},{"r":30,"c":27,"v":0},{"r":30,"c":28,"v":0},{"r":30,"c":29,"v":0},{"r":30,"c":30,"v":0.71},{"r":30,"c":31,"v":0.04},{"r":30,"c":32,"v":0},{"r":30,"c":33,"v":0},{"r":30,"c":34,"v":0.16},{"r":30,"c":35,"v":0},{"r":30,"c":36,"v":0},{"r":30,"c":37,"v":0},{"r":30,"c":38,"v":0},{"r":30,"c":39,"v":0},{"r":30,"c":40,"v":0},{"r":30,"c":41,"v":0},{"r":30,"c":42,"v":0},{"r":30,"c":43,"v":0},{"r":30,"c":44,"v":0},{"r":30,"c":45,"v":0},{"r":30,"c":46,"v":0},{"r":30,"c":47,"v":0},{"r":30,"c":48,"v":0},{"r":30,"c":49,"v":0},{"r":30,"c":50,"v":0},{"r":30,"c":51,"v":0},{"r":30,"c":52,"v":0},
{"r":31,"c":0,"v":0},{"r":31,"c":1,"v":0},{"r":31,"c":2,"v":0},{"r":31,"c":3,"v":0},{"r":31,"c":4,"v":0},{"r":31,"c":5,"v":0},{"r":31,"c":6,"v":0},{"r":31,"c":7,"v":0},{"r":31,"c":8,"v":0},{"r":31,"c":9,"v":0},{"r":31,"c":10,"v":0},{"r":31,"c":11,"v":0},{"r":31,"c":12,"v":0},{"r":31,"c":13,"v":0},{"r":31,"c":14,"v":0},{"r":31,"c":15,"v":0},{"r":31,"c":16,"v":0},{"r":31,"c":17,"v":0},{"r":31,"c":18,"v":0},{"r":31,"c":19,"v":0},{"r":31,"c":20,"v":0},{"r":31,"c":21,"v":0},{"r":31,"c":22,"v":0},{"r":31,"c":23,"v":0},{"r":31,"c":24,"v":0},{"r":31,"c":25,"v":0},{"r":31,"c":26,"v":0},{"r":31,"c":27,"v":0},{"r":31,"c":28,"v":0},{"r":31,"c":29,"v":0},{"r":31,"c":30,"v":0},{"r":31,"c":31,"v":0.75},{"r":31,"c":32,"v":0.14},{"r":31,"c":33,"v":0},{"r":31,"c":34,"v":0.03},{"r":31,"c":35,"v":0},{"r":31,"c":36,"v":0},{"r":31,"c":37,"v":0},{"r":31,"c":38,"v":0},{"r":31,"c":39,"v":0},{"r":31,"c":40,"v":0},{"r":31,"c":41,"v":0},{"r":31,"c":42,"v":0},{"r":31,"c":43,"v":0},{"r":31,"c":44,"v":0},{"r":31,"c":45,"v":0},{"r":31,"c":46,"v":0},{"r":31,"c":47,"v":0},{"r":31,"c":48,"v":0},{"r":31,"c":49,"v":0},{"r":31,"c":50,"v":0},{"r":31,"c":51,"v":0},{"r":31,"c":52,"v":0},
{"r":32,"c":0,"v":0},{"r":32,"c":1,"v":0},{"r":32,"c":2,"v":0},{"r":32,"c":3,"v":0},{"r":32,"c":4,"v":0},{"r":32,"c":5,"v":0},{"r":32,"c":6,"v":0},{"r":32,"c":7,"v":0},{"r":32,"c":8,"v":0},{"r":32,"c":9,"v":0},{"r":32,"c":10,"v":0},{"r":32,"c":11,"v":0},{"r":32,"c":12,"v":0},{"r":32,"c":13,"v":0},{"r":32,"c":14,"v":0},{"r":32,"c":15,"v":0},{"r":32,"c":16,"v":0},{"r":32,"c":17,"v":0},{"r":32,"c":18,"v":0},{"r":32,"c":19,"v":0},{"r":32,"c":20,"v":0},{"r":32,"c":21,"v":0},{"r":32,"c":22,"v":0},{"r":32,"c":23,"v":0},{"r":32,"c":24,"v":0},{"r":32,"c":25,"v":0},{"r":32,"c":26,"v":0},{"r":32,"c":27,"v":0},{"r":32,"c":28,"v":0},{"r":32,"c":29,"v":0},{"r":32,"c":30,"v":0},{"r":32,"c":31,"v":0.15},{"r":32,"c":32,"v":0.72},{"r":32,"c":33,"v":0},{"r":32,"c":34,"v":0.03},{"r":32,"c":35,"v":0},{"r":32,"c":36,"v":0},{"r":32,"c":37,"v":0},{"r":32,"c":38,"v":0},{"r":32,"c":39,"v":0},{"r":32,"c":40,"v":0},{"r":32,"c":41,"v":0},{"r":32,"c":42,"v":0},{"r":32,"c":43,"v":0},{"r":32,"c":44,"v":0},{"r":32,"c":45,"v":0},{"r":32,"c":46,"v":0},{"r":32,"c":47,"v":0},{"r":32,"c":48,"v":0},{"r":32,"c":49,"v":0},{"r":32,"c":50,"v":0},{"r":32,"c":51,"v":0},{"r":32,"c":52,"v":0},
{"r":33,"c":0,"v":0},{"r":33,"c":1,"v":0},{"r":33,"c":2,"v":0},{"r":33,"c":3,"v":0},{"r":33,"c":4,"v":0},{"r":33,"c":5,"v":0},{"r":33,"c":6,"v":0},{"r":33,"c":7,"v":0},{"r":33,"c":8,"v":0},{"r":33,"c":9,"v":0},{"r":33,"c":10,"v":0},{"r":33,"c":11,"v":0},{"r":33,"c":12,"v":0},{"r":33,"c":13,"v":0},{"r":33,"c":14,"v":0},{"r":33,"c":15,"v":0},{"r":33,"c":16,"v":0},{"r":33,"c":17,"v":0},{"r":33,"c":18,"v":0},{"r":33,"c":19,"v":0},{"r":33,"c":20,"v":0},{"r":33,"c":21,"v":0},{"r":33,"c":22,"v":0},{"r":33,"c":23,"v":0},{"r":33,"c":24,"v":0},{"r":33,"c":25,"v":0},{"r":33,"c":26,"v":0},{"r":33,"c":27,"v":0},{"r":33,"c":28,"v":0},{"r":33,"c":29,"v":0},{"r":33,"c":30,"v":0},{"r":33,"c":31,"v":0},{"r":33,"c":32,"v":0},{"r":33,"c":33,"v":0.9},{"r":33,"c":34,"v":0},{"r":33,"c":35,"v":0},{"r":33,"c":36,"v":0},{"r":33,"c":37,"v":0},{"r":33,"c":38,"v":0},{"r":33,"c":39,"v":0},{"r":33,"c":40,"v":0},{"r":33,"c":41,"v":0},{"r":33,"c":42,"v":0},{"r":33,"c":43,"v":0},{"r":33,"c":44,"v":0},{"r":33,"c":45,"v":0},{"r":33,"c":46,"v":0},{"r":33,"c":47,"v":0},{"r":33,"c":48,"v":0},{"r":33,"c":49,"v":0},{"r":33,"c":50,"v":0},{"r":33,"c":51,"v":0},{"r":33,"c":52,"v":0.05},
{"r":34,"c":0,"v":0},{"r":34,"c":1,"v":0},{"r":34,"c":2,"v":0},{"r":34,"c":3,"v":0},{"r":34,"c":4,"v":0},{"r":34,"c":5,"v":0},{"r":34,"c":6,"v":0},{"r":34,"c":7,"v":0},{"r":34,"c":8,"v":0},{"r":34,"c":9,"v":0},{"r":34,"c":10,"v":0},{"r":34,"c":11,"v":0},{"r":34,"c":12,"v":0},{"r":34,"c":13,"v":0},{"r":34,"c":14,"v":0},{"r":34,"c":15,"v":0},{"r":34,"c":16,"v":0},{"r":34,"c":17,"v":0},{"r":34,"c":18,"v":0},{"r":34,"c":19,"v":0},{"r":34,"c":20,"v":0},{"r":34,"c":21,"v":0},{"r":34,"c":22,"v":0},{"r":34,"c":23,"v":0},{"r":34,"c":24,"v":0},{"r":34,"c":25,"v":0},{"r":34,"c":26,"v":0},{"r":34,"c":27,"v":0},{"r":34,"c":28,"v":0},{"r":34,"c":29,"v":0},{"r":34,"c":30,"v":0.09},{"r":34,"c":31,"v":0},{"r":34,"c":32,"v":0},{"r":34,"c":33,"v":0},{"r":34,"c":34,"v":0.8},{"r":34,"c":35,"v":0},{"r":34,"c":36,"v":0},{"r":34,"c":37,"v":0},{"r":34,"c":38,"v":0},{"r":34,"c":39,"v":0},{"r":34,"c":40,"v":0},{"r":34,"c":41,"v":0},{"r":34,"c":42,"v":0},{"r":34,"c":43,"v":0},{"r":34,"c":44,"v":0},{"r":34,"c":45,"v":0},{"r":34,"c":46,"v":0},{"r":34,"c":47,"v":0},{"r":34,"c":48,"v":0},{"r":34,"c":49,"v":0},{"r":34,"c":50,"v":0},{"r":34,"c":51,"v":0},{"r":34,"c":52,"v":0},
{"r":35,"c":0,"v":0},{"r":35,"c":1,"v":0},{"r":35,"c":2,"v":0},{"r":35,"c":3,"v":0},{"r":35,"c":4,"v":0},{"r":35,"c":5,"v":0},{"r":35,"c":6,"v":0},{"r":35,"c":7,"v":0},{"r":35,"c":8,"v":0},{"r":35,"c":9,"v":0},{"r":35,"c":10,"v":0},{"r":35,"c":11,"v":0},{"r":35,"c":12,"v":0},{"r":35,"c":13,"v":0},{"r":35,"c":14,"v":0},{"r":35,"c":15,"v":0},{"r":35,"c":16,"v":0},{"r":35,"c":17,"v":0},{"r":35,"c":18,"v":0},{"r":35,"c":19,"v":0},{"r":35,"c":20,"v":0},{"r":35,"c":21,"v":0},{"r":35,"c":22,"v":0},{"r":35,"c":23,"v":0},{"r":35,"c":24,"v":0},{"r":35,"c":25,"v":0},{"r":35,"c":26,"v":0},{"r":35,"c":27,"v":0},{"r":35,"c":28,"v":0},{"r":35,"c":29,"v":0},{"r":35,"c":30,"v":0},{"r":35,"c":31,"v":0},{"r":35,"c":32,"v":0},{"r":35,"c":33,"v":0},{"r":35,"c":34,"v":0},{"r":35,"c":35,"v":0.92},{"r":35,"c":36,"v":0.03},{"r":35,"c":37,"v":0},{"r":35,"c":38,"v":0},{"r":35,"c":39,"v":0},{"r":35,"c":40,"v":0},{"r":35,"c":41,"v":0},{"r":35,"c":42,"v":0},{"r":35,"c":43,"v":0},{"r":35,"c":44,"v":0},{"r":35,"c":45,"v":0},{"r":35,"c":46,"v":0},{"r":35,"c":47,"v":0},{"r":35,"c":48,"v":0},{"r":35,"c":49,"v":0},{"r":35,"c":50,"v":0},{"r":35,"c":51,"v":0},{"r":35,"c":52,"v":0},
{"r":36,"c":0,"v":0.05},{"r":36,"c":1,"v":0},{"r":36,"c":2,"v":0},{"r":36,"c":3,"v":0},{"r":36,"c":4,"v":0},{"r":36,"c":5,"v":0},{"r":36,"c":6,"v":0},{"r":36,"c":7,"v":0},{"r":36,"c":8,"v":0},{"r":36,"c":9,"v":0},{"r":36,"c":10,"v":0},{"r":36,"c":11,"v":0},{"r":36,"c":12,"v":0},{"r":36,"c":13,"v":0},{"r":36,"c":14,"v":0},{"r":36,"c":15,"v":0},{"r":36,"c":16,"v":0},{"r":36,"c":17,"v":0},{"r":36,"c":18,"v":0},{"r":36,"c":19,"v":0},{"r":36,"c":20,"v":0},{"r":36,"c":21,"v":0},{"r":36,"c":22,"v":0},{"r":36,"c":23,"v":0},{"r":36,"c":24,"v":0},{"r":36,"c":25,"v":0},{"r":36,"c":26,"v":0},{"r":36,"c":27,"v":0},{"r":36,"c":28,"v":0},{"r":36,"c":29,"v":0},{"r":36,"c":30,"v":0},{"r":36,"c":31,"v":0},{"r":36,"c":32,"v":0},{"r":36,"c":33,"v":0},{"r":36,"c":34,"v":0},{"r":36,"c":35,"v":0},{"r":36,"c":36,"v":0.7},{"r":36,"c":37,"v":0.05},{"r":36,"c":38,"v":0},{"r":36,"c":39,"v":0},{"r":36,"c":40,"v":0},{"r":36,"c":41,"v":0},{"r":36,"c":42,"v":0},{"r":36,"c":43,"v":0},{"r":36,"c":44,"v":0},{"r":36,"c":45,"v":0},{"r":36,"c":46,"v":0},{"r":36,"c":47,"v":0},{"r":36,"c":48,"v":0},{"r":36,"c":49,"v":0},{"r":36,"c":50,"v":0},{"r":36,"c":51,"v":0},{"r":36,"c":52,"v":0},
{"r":37,"c":0,"v":0.03},{"r":37,"c":1,"v":0},{"r":37,"c":2,"v":0},{"r":37,"c":3,"v":0},{"r":37,"c":4,"v":0},{"r":37,"c":5,"v":0},{"r":37,"c":6,"v":0},{"r":37,"c":7,"v":0},{"r":37,"c":8,"v":0},{"r":37,"c":9,"v":0},{"r":37,"c":10,"v":0},{"r":37,"c":11,"v":0},{"r":37,"c":12,"v":0},{"r":37,"c":13,"v":0},{"r":37,"c":14,"v":0},{"r":37,"c":15,"v":0},{"r":37,"c":16,"v":0},{"r":37,"c":17,"v":0},{"r":37,"c":18,"v":0},{"r":37,"c":19,"v":0},{"r":37,"c":20,"v":0},{"r":37,"c":21,"v":0},{"r":37,"c":22,"v":0},{"r":37,"c":23,"v":0},{"r":37,"c":24,"v":0},{"r":37,"c":25,"v":0},{"r":37,"c":26,"v":0},{"r":37,"c":27,"v":0},{"r":37,"c":28,"v":0},{"r":37,"c":29,"v":0},{"r":37,"c":30,"v":0},{"r":37,"c":31,"v":0},{"r":37,"c":32,"v":0},{"r":37,"c":33,"v":0},{"r":37,"c":34,"v":0},{"r":37,"c":35,"v":0},{"r":37,"c":36,"v":0},{"r":37,"c":37,"v":0.87},{"r":37,"c":38,"v":0},{"r":37,"c":39,"v":0},{"r":37,"c":40,"v":0},{"r":37,"c":41,"v":0},{"r":37,"c":42,"v":0},{"r":37,"c":43,"v":0},{"r":37,"c":44,"v":0},{"r":37,"c":45,"v":0},{"r":37,"c":46,"v":0},{"r":37,"c":47,"v":0},{"r":37,"c":48,"v":0},{"r":37,"c":49,"v":0},{"r":37,"c":50,"v":0},{"r":37,"c":51,"v":0},{"r":37,"c":52,"v":0},
{"r":38,"c":0,"v":0.05},{"r":38,"c":1,"v":0},{"r":38,"c":2,"v":0},{"r":38,"c":3,"v":0},{"r":38,"c":4,"v":0},{"r":38,"c":5,"v":0},{"r":38,"c":6,"v":0},{"r":38,"c":7,"v":0},{"r":38,"c":8,"v":0},{"r":38,"c":9,"v":0},{"r":38,"c":10,"v":0},{"r":38,"c":11,"v":0},{"r":38,"c":12,"v":0},{"r":38,"c":13,"v":0},{"r":38,"c":14,"v":0},{"r":38,"c":15,"v":0},{"r":38,"c":16,"v":0},{"r":38,"c":17,"v":0},{"r":38,"c":18,"v":0},{"r":38,"c":19,"v":0},{"r":38,"c":20,"v":0},{"r":38,"c":21,"v":0},{"r":38,"c":22,"v":0},{"r":38,"c":23,"v":0},{"r":38,"c":24,"v":0},{"r":38,"c":25,"v":0},{"r":38,"c":26,"v":0},{"r":38,"c":27,"v":0},{"r":38,"c":28,"v":0},{"r":38,"c":29,"v":0},{"r":38,"c":30,"v":0},{"r":38,"c":31,"v":0},{"r":38,"c":32,"v":0},{"r":38,"c":33,"v":0},{"r":38,"c":34,"v":0},{"r":38,"c":35,"v":0},{"r":38,"c":36,"v":0},{"r":38,"c":37,"v":0},{"r":38,"c":38,"v":0.77},{"r":38,"c":39,"v":0},{"r":38,"c":40,"v":0},{"r":38,"c":41,"v":0},{"r":38,"c":42,"v":0},{"r":38,"c":43,"v":0},{"r":38,"c":44,"v":0},{"r":38,"c":45,"v":0},{"r":38,"c":46,"v":0},{"r":38,"c":47,"v":0},{"r":38,"c":48,"v":0},{"r":38,"c":49,"v":0},{"r":38,"c":50,"v":0},{"r":38,"c":51,"v":0},{"r":38,"c":52,"v":0},
{"r":39,"c":0,"v":0},{"r":39,"c":1,"v":0},{"r":39,"c":2,"v":0},{"r":39,"c":3,"v":0},{"r":39,"c":4,"v":0},{"r":39,"c":5,"v":0},{"r":39,"c":6,"v":0},{"r":39,"c":7,"v":0},{"r":39,"c":8,"v":0},{"r":39,"c":9,"v":0},{"r":39,"c":10,"v":0},{"r":39,"c":11,"v":0},{"r":39,"c":12,"v":0},{"r":39,"c":13,"v":0},{"r":39,"c":14,"v":0},{"r":39,"c":15,"v":0},{"r":39,"c":16,"v":0},{"r":39,"c":17,"v":0},{"r":39,"c":18,"v":0},{"r":39,"c":19,"v":0},{"r":39,"c":20,"v":0},{"r":39,"c":21,"v":0},{"r":39,"c":22,"v":0},{"r":39,"c":23,"v":0},{"r":39,"c":24,"v":0},{"r":39,"c":25,"v":0},{"r":39,"c":26,"v":0},{"r":39,"c":27,"v":0},{"r":39,"c":28,"v":0},{"r":39,"c":29,"v":0},{"r":39,"c":30,"v":0},{"r":39,"c":31,"v":0},{"r":39,"c":32,"v":0},{"r":39,"c":33,"v":0},{"r":39,"c":34,"v":0},{"r":39,"c":35,"v":0},{"r":39,"c":36,"v":0},{"r":39,"c":37,"v":0},{"r":39,"c":38,"v":0},{"r":39,"c":39,"v":0.87},{"r":39,"c":40,"v":0},{"r":39,"c":41,"v":0},{"r":39,"c":42,"v":0},{"r":39,"c":43,"v":0},{"r":39,"c":44,"v":0},{"r":39,"c":45,"v":0},{"r":39,"c":46,"v":0},{"r":39,"c":47,"v":0},{"r":39,"c":48,"v":0},{"r":39,"c":49,"v":0},{"r":39,"c":50,"v":0},{"r":39,"c":51,"v":0},{"r":39,"c":52,"v":0},
{"r":40,"c":0,"v":0},{"r":40,"c":1,"v":0},{"r":40,"c":2,"v":0},{"r":40,"c":3,"v":0},{"r":40,"c":4,"v":0},{"r":40,"c":5,"v":0},{"r":40,"c":6,"v":0},{"r":40,"c":7,"v":0},{"r":40,"c":8,"v":0},{"r":40,"c":9,"v":0},{"r":40,"c":10,"v":0},{"r":40,"c":11,"v":0},{"r":40,"c":12,"v":0},{"r":40,"c":13,"v":0},{"r":40,"c":14,"v":0},{"r":40,"c":15,"v":0},{"r":40,"c":16,"v":0},{"r":40,"c":17,"v":0},{"r":40,"c":18,"v":0},{"r":40,"c":19,"v":0},{"r":40,"c":20,"v":0},{"r":40,"c":21,"v":0},{"r":40,"c":22,"v":0},{"r":40,"c":23,"v":0},{"r":40,"c":24,"v":0},{"r":40,"c":25,"v":0},{"r":40,"c":26,"v":0},{"r":40,"c":27,"v":0},{"r":40,"c":28,"v":0.08},{"r":40,"c":29,"v":0},{"r":40,"c":30,"v":0},{"r":40,"c":31,"v":0},{"r":40,"c":32,"v":0},{"r":40,"c":33,"v":0},{"r":40,"c":34,"v":0},{"r":40,"c":35,"v":0},{"r":40,"c":36,"v":0},{"r":40,"c":37,"v":0},{"r":40,"c":38,"v":0},{"r":40,"c":39,"v":0},{"r":40,"c":40,"v":0.73},{"r":40,"c":41,"v":0},{"r":40,"c":42,"v":0},{"r":40,"c":43,"v":0},{"r":40,"c":44,"v":0},{"r":40,"c":45,"v":0},{"r":40,"c":46,"v":0},{"r":40,"c":47,"v":0},{"r":40,"c":48,"v":0},{"r":40,"c":49,"v":0},{"r":40,"c":50,"v":0},{"r":40,"c":51,"v":0},{"r":40,"c":52,"v":0},
{"r":41,"c":0,"v":0},{"r":41,"c":1,"v":0},{"r":41,"c":2,"v":0},{"r":41,"c":3,"v":0},{"r":41,"c":4,"v":0},{"r":41,"c":5,"v":0},{"r":41,"c":6,"v":0},{"r":41,"c":7,"v":0},{"r":41,"c":8,"v":0},{"r":41,"c":9,"v":0},{"r":41,"c":10,"v":0},{"r":41,"c":11,"v":0},{"r":41,"c":12,"v":0},{"r":41,"c":13,"v":0},{"r":41,"c":14,"v":0},{"r":41,"c":15,"v":0},{"r":41,"c":16,"v":0},{"r":41,"c":17,"v":0},{"r":41,"c":18,"v":0},{"r":41,"c":19,"v":0},{"r":41,"c":20,"v":0},{"r":41,"c":21,"v":0},{"r":41,"c":22,"v":0},{"r":41,"c":23,"v":0},{"r":41,"c":24,"v":0},{"r":41,"c":25,"v":0},{"r":41,"c":26,"v":0},{"r":41,"c":27,"v":0},{"r":41,"c":28,"v":0},{"r":41,"c":29,"v":0},{"r":41,"c":30,"v":0},{"r":41,"c":31,"v":0},{"r":41,"c":32,"v":0},{"r":41,"c":33,"v":0},{"r":41,"c":34,"v":0},{"r":41,"c":35,"v":0},{"r":41,"c":36,"v":0},{"r":41,"c":37,"v":0},{"r":41,"c":38,"v":0},{"r":41,"c":39,"v":0},{"r":41,"c":40,"v":0.04},{"r":41,"c":41,"v":0.8},{"r":41,"c":42,"v":0},{"r":41,"c":43,"v":0},{"r":41,"c":44,"v":0},{"r":41,"c":45,"v":0},{"r":41,"c":46,"v":0},{"r":41,"c":47,"v":0},{"r":41,"c":48,"v":0},{"r":41,"c":49,"v":0},{"r":41,"c":50,"v":0},{"r":41,"c":51,"v":0},{"r":41,"c":52,"v":0},
{"r":42,"c":0,"v":0},{"r":42,"c":1,"v":0},{"r":42,"c":2,"v":0},{"r":42,"c":3,"v":0},{"r":42,"c":4,"v":0},{"r":42,"c":5,"v":0},{"r":42,"c":6,"v":0},{"r":42,"c":7,"v":0},{"r":42,"c":8,"v":0},{"r":42,"c":9,"v":0},{"r":42,"c":10,"v":0},{"r":42,"c":11,"v":0},{"r":42,"c":12,"v":0},{"r":42,"c":13,"v":0},{"r":42,"c":14,"v":0},{"r":42,"c":15,"v":0},{"r":42,"c":16,"v":0},{"r":42,"c":17,"v":0},{"r":42,"c":18,"v":0},{"r":42,"c":19,"v":0},{"r":42,"c":20,"v":0},{"r":42,"c":21,"v":0},{"r":42,"c":22,"v":0},{"r":42,"c":23,"v":0},{"r":42,"c":24,"v":0},{"r":42,"c":25,"v":0},{"r":42,"c":26,"v":0},{"r":42,"c":27,"v":0},{"r":42,"c":28,"v":0},{"r":42,"c":29,"v":0},{"r":42,"c":30,"v":0},{"r":42,"c":31,"v":0},{"r":42,"c":32,"v":0},{"r":42,"c":33,"v":0},{"r":42,"c":34,"v":0},{"r":42,"c":35,"v":0},{"r":42,"c":36,"v":0},{"r":42,"c":37,"v":0},{"r":42,"c":38,"v":0},{"r":42,"c":39,"v":0},{"r":42,"c":40,"v":0},{"r":42,"c":41,"v":0.04},{"r":42,"c":42,"v":0.68},{"r":42,"c":43,"v":0},{"r":42,"c":44,"v":0},{"r":42,"c":45,"v":0},{"r":42,"c":46,"v":0},{"r":42,"c":47,"v":0},{"r":42,"c":48,"v":0},{"r":42,"c":49,"v":0},{"r":42,"c":50,"v":0},{"r":42,"c":51,"v":0},{"r":42,"c":52,"v":0},
{"r":43,"c":0,"v":0},{"r":43,"c":1,"v":0},{"r":43,"c":2,"v":0},{"r":43,"c":3,"v":0},{"r":43,"c":4,"v":0},{"r":43,"c":5,"v":0},{"r":43,"c":6,"v":0},{"r":43,"c":7,"v":0},{"r":43,"c":8,"v":0},{"r":43,"c":9,"v":0},{"r":43,"c":10,"v":0},{"r":43,"c":11,"v":0},{"r":43,"c":12,"v":0},{"r":43,"c":13,"v":0},{"r":43,"c":14,"v":0},{"r":43,"c":15,"v":0},{"r":43,"c":16,"v":0},{"r":43,"c":17,"v":0},{"r":43,"c":18,"v":0},{"r":43,"c":19,"v":0},{"r":43,"c":20,"v":0},{"r":43,"c":21,"v":0},{"r":43,"c":22,"v":0},{"r":43,"c":23,"v":0},{"r":43,"c":24,"v":0},{"r":43,"c":25,"v":0},{"r":43,"c":26,"v":0},{"r":43,"c":27,"v":0},{"r":43,"c":28,"v":0},{"r":43,"c":29,"v":0},{"r":43,"c":30,"v":0},{"r":43,"c":31,"v":0},{"r":43,"c":32,"v":0},{"r":43,"c":33,"v":0},{"r":43,"c":34,"v":0},{"r":43,"c":35,"v":0},{"r":43,"c":36,"v":0},{"r":43,"c":37,"v":0},{"r":43,"c":38,"v":0},{"r":43,"c":39,"v":0},{"r":43,"c":40,"v":0},{"r":43,"c":41,"v":0},{"r":43,"c":42,"v":0},{"r":43,"c":43,"v":0.78},{"r":43,"c":44,"v":0.1},{"r":43,"c":45,"v":0},{"r":43,"c":46,"v":0},{"r":43,"c":47,"v":0},{"r":43,"c":48,"v":0},{"r":43,"c":49,"v":0},{"r":43,"c":50,"v":0},{"r":43,"c":51,"v":0},{"r":43,"c":52,"v":0},
{"r":44,"c":0,"v":0.12},{"r":44,"c":1,"v":0},{"r":44,"c":2,"v":0},{"r":44,"c":3,"v":0},{"r":44,"c":4,"v":0},{"r":44,"c":5,"v":0},{"r":44,"c":6,"v":0},{"r":44,"c":7,"v":0},{"r":44,"c":8,"v":0},{"r":44,"c":9,"v":0},{"r":44,"c":10,"v":0},{"r":44,"c":11,"v":0},{"r":44,"c":12,"v":0},{"r":44,"c":13,"v":0},{"r":44,"c":14,"v":0},{"r":44,"c":15,"v":0},{"r":44,"c":16,"v":0},{"r":44,"c":17,"v":0},{"r":44,"c":18,"v":0},{"r":44,"c":19,"v":0},{"r":44,"c":20,"v":0},{"r":44,"c":21,"v":0},{"r":44,"c":22,"v":0},{"r":44,"c":23,"v":0},{"r":44,"c":24,"v":0},{"r":44,"c":25,"v":0},{"r":44,"c":26,"v":0},{"r":44,"c":27,"v":0},{"r":44,"c":28,"v":0},{"r":44,"c":29,"v":0},{"r":44,"c":30,"v":0},{"r":44,"c":31,"v":0},{"r":44,"c":32,"v":0},{"r":44,"c":33,"v":0},{"r":44,"c":34,"v":0},{"r":44,"c":35,"v":0},{"r":44,"c":36,"v":0},{"r":44,"c":37,"v":0},{"r":44,"c":38,"v":0},{"r":44,"c":39,"v":0},{"r":44,"c":40,"v":0},{"r":44,"c":41,"v":0},{"r":44,"c":42,"v":0},{"r":44,"c":43,"v":0.06},{"r":44,"c":44,"v":0.8},{"r":44,"c":45,"v":0},{"r":44,"c":46,"v":0},{"r":44,"c":47,"v":0},{"r":44,"c":48,"v":0},{"r":44,"c":49,"v":0},{"r":44,"c":50,"v":0},{"r":44,"c":51,"v":0},{"r":44,"c":52,"v":0},
{"r":45,"c":0,"v":0.03},{"r":45,"c":1,"v":0},{"r":45,"c":2,"v":0},{"r":45,"c":3,"v":0},{"r":45,"c":4,"v":0},{"r":45,"c":5,"v":0},{"r":45,"c":6,"v":0},{"r":45,"c":7,"v":0},{"r":45,"c":8,"v":0},{"r":45,"c":9,"v":0},{"r":45,"c":10,"v":0},{"r":45,"c":11,"v":0},{"r":45,"c":12,"v":0},{"r":45,"c":13,"v":0},{"r":45,"c":14,"v":0},{"r":45,"c":15,"v":0},{"r":45,"c":16,"v":0},{"r":45,"c":17,"v":0},{"r":45,"c":18,"v":0},{"r":45,"c":19,"v":0},{"r":45,"c":20,"v":0},{"r":45,"c":21,"v":0},{"r":45,"c":22,"v":0},{"r":45,"c":23,"v":0},{"r":45,"c":24,"v":0},{"r":45,"c":25,"v":0},{"r":45,"c":26,"v":0},{"r":45,"c":27,"v":0},{"r":45,"c":28,"v":0},{"r":45,"c":29,"v":0},{"r":45,"c":30,"v":0},{"r":45,"c":31,"v":0},{"r":45,"c":32,"v":0},{"r":45,"c":33,"v":0},{"r":45,"c":34,"v":0},{"r":45,"c":35,"v":0},{"r":45,"c":36,"v":0},{"r":45,"c":37,"v":0},{"r":45,"c":38,"v":0},{"r":45,"c":39,"v":0},{"r":45,"c":40,"v":0},{"r":45,"c":41,"v":0.05},{"r":45,"c":42,"v":0.07},{"r":45,"c":43,"v":0},{"r":45,"c":44,"v":0},{"r":45,"c":45,"v":0.66},{"r":45,"c":46,"v":0},{"r":45,"c":47,"v":0},{"r":45,"c":48,"v":0},{"r":45,"c":49,"v":0},{"r":45,"c":50,"v":0.03},{"r":45,"c":51,"v":0},{"r":45,"c":52,"v":0},
{"r":46,"c":0,"v":0},{"r":46,"c":1,"v":0},{"r":46,"c":2,"v":0},{"r":46,"c":3,"v":0},{"r":46,"c":4,"v":0},{"r":46,"c":5,"v":0},{"r":46,"c":6,"v":0},{"r":46,"c":7,"v":0},{"r":46,"c":8,"v":0},{"r":46,"c":9,"v":0},{"r":46,"c":10,"v":0},{"r":46,"c":11,"v":0},{"r":46,"c":12,"v":0},{"r":46,"c":13,"v":0},{"r":46,"c":14,"v":0},{"r":46,"c":15,"v":0},{"r":46,"c":16,"v":0},{"r":46,"c":17,"v":0},{"r":46,"c":18,"v":0},{"r":46,"c":19,"v":0},{"r":46,"c":20,"v":0},{"r":46,"c":21,"v":0},{"r":46,"c":22,"v":0},{"r":46,"c":23,"v":0},{"r":46,"c":24,"v":0},{"r":46,"c":25,"v":0},{"r":46,"c":26,"v":0},{"r":46,"c":27,"v":0},{"r":46,"c":28,"v":0},{"r":46,"c":29,"v":0},{"r":46,"c":30,"v":0},{"r":46,"c":31,"v":0},{"r":46,"c":32,"v":0},{"r":46,"c":33,"v":0},{"r":46,"c":34,"v":0},{"r":46,"c":35,"v":0},{"r":46,"c":36,"v":0},{"r":46,"c":37,"v":0},{"r":46,"c":38,"v":0},{"r":46,"c":39,"v":0},{"r":46,"c":40,"v":0},{"r":46,"c":41,"v":0},{"r":46,"c":42,"v":0},{"r":46,"c":43,"v":0},{"r":46,"c":44,"v":0},{"r":46,"c":45,"v":0},{"r":46,"c":46,"v":0.91},{"r":46,"c":47,"v":0},{"r":46,"c":48,"v":0},{"r":46,"c":49,"v":0},{"r":46,"c":50,"v":0},{"r":46,"c":51,"v":0},{"r":46,"c":52,"v":0},
{"r":47,"c":0,"v":0.03},{"r":47,"c":1,"v":0},{"r":47,"c":2,"v":0},{"r":47,"c":3,"v":0},{"r":47,"c":4,"v":0},{"r":47,"c":5,"v":0},{"r":47,"c":6,"v":0},{"r":47,"c":7,"v":0},{"r":47,"c":8,"v":0},{"r":47,"c":9,"v":0},{"r":47,"c":10,"v":0},{"r":47,"c":11,"v":0},{"r":47,"c":12,"v":0},{"r":47,"c":13,"v":0},{"r":47,"c":14,"v":0},{"r":47,"c":15,"v":0},{"r":47,"c":16,"v":0},{"r":47,"c":17,"v":0},{"r":47,"c":18,"v":0},{"r":47,"c":19,"v":0},{"r":47,"c":20,"v":0},{"r":47,"c":21,"v":0},{"r":47,"c":22,"v":0},{"r":47,"c":23,"v":0},{"r":47,"c":24,"v":0},{"r":47,"c":25,"v":0},{"r":47,"c":26,"v":0},{"r":47,"c":27,"v":0},{"r":47,"c":28,"v":0},{"r":47,"c":29,"v":0},{"r":47,"c":30,"v":0},{"r":47,"c":31,"v":0},{"r":47,"c":32,"v":0},{"r":47,"c":33,"v":0},{"r":47,"c":34,"v":0},{"r":47,"c":35,"v":0},{"r":47,"c":36,"v":0},{"r":47,"c":37,"v":0},{"r":47,"c":38,"v":0},{"r":47,"c":39,"v":0},{"r":47,"c":40,"v":0},{"r":47,"c":41,"v":0},{"r":47,"c":42,"v":0},{"r":47,"c":43,"v":0},{"r":47,"c":44,"v":0},{"r":47,"c":45,"v":0},{"r":47,"c":46,"v":0},{"r":47,"c":47,"v":0.86},{"r":47,"c":48,"v":0},{"r":47,"c":49,"v":0},{"r":47,"c":50,"v":0},{"r":47,"c":51,"v":0},{"r":47,"c":52,"v":0},
{"r":48,"c":0,"v":0},{"r":48,"c":1,"v":0},{"r":48,"c":2,"v":0},{"r":48,"c":3,"v":0},{"r":48,"c":4,"v":0},{"r":48,"c":5,"v":0},{"r":48,"c":6,"v":0},{"r":48,"c":7,"v":0},{"r":48,"c":8,"v":0},{"r":48,"c":9,"v":0},{"r":48,"c":10,"v":0},{"r":48,"c":11,"v":0},{"r":48,"c":12,"v":0},{"r":48,"c":13,"v":0},{"r":48,"c":14,"v":0},{"r":48,"c":15,"v":0},{"r":48,"c":16,"v":0},{"r":48,"c":17,"v":0},{"r":48,"c":18,"v":0},{"r":48,"c":19,"v":0},{"r":48,"c":20,"v":0},{"r":48,"c":21,"v":0},{"r":48,"c":22,"v":0},{"r":48,"c":23,"v":0},{"r":48,"c":24,"v":0},{"r":48,"c":25,"v":0},{"r":48,"c":26,"v":0},{"r":48,"c":27,"v":0},{"r":48,"c":28,"v":0},{"r":48,"c":29,"v":0},{"r":48,"c":30,"v":0},{"r":48,"c":31,"v":0},{"r":48,"c":32,"v":0},{"r":48,"c":33,"v":0},{"r":48,"c":34,"v":0},{"r":48,"c":35,"v":0},{"r":48,"c":36,"v":0},{"r":48,"c":37,"v":0},{"r":48,"c":38,"v":0},{"r":48,"c":39,"v":0},{"r":48,"c":40,"v":0},{"r":48,"c":41,"v":0},{"r":48,"c":42,"v":0},{"r":48,"c":43,"v":0},{"r":48,"c":44,"v":0},{"r":48,"c":45,"v":0},{"r":48,"c":46,"v":0},{"r":48,"c":47,"v":0},{"r":48,"c":48,"v":0.85},{"r":48,"c":49,"v":0},{"r":48,"c":50,"v":0},{"r":48,"c":51,"v":0},{"r":48,"c":52,"v":0},
{"r":49,"c":0,"v":0},{"r":49,"c":1,"v":0},{"r":49,"c":2,"v":0},{"r":49,"c":3,"v":0},{"r":49,"c":4,"v":0},{"r":49,"c":5,"v":0},{"r":49,"c":6,"v":0},{"r":49,"c":7,"v":0},{"r":49,"c":8,"v":0},{"r":49,"c":9,"v":0},{"r":49,"c":10,"v":0},{"r":49,"c":11,"v":0},{"r":49,"c":12,"v":0},{"r":49,"c":13,"v":0},{"r":49,"c":14,"v":0},{"r":49,"c":15,"v":0},{"r":49,"c":16,"v":0},{"r":49,"c":17,"v":0},{"r":49,"c":18,"v":0},{"r":49,"c":19,"v":0},{"r":49,"c":20,"v":0},{"r":49,"c":21,"v":0},{"r":49,"c":22,"v":0},{"r":49,"c":23,"v":0},{"r":49,"c":24,"v":0},{"r":49,"c":25,"v":0},{"r":49,"c":26,"v":0},{"r":49,"c":27,"v":0},{"r":49,"c":28,"v":0},{"r":49,"c":29,"v":0},{"r":49,"c":30,"v":0},{"r":49,"c":31,"v":0},{"r":49,"c":32,"v":0},{"r":49,"c":33,"v":0},{"r":49,"c":34,"v":0},{"r":49,"c":35,"v":0},{"r":49,"c":36,"v":0},{"r":49,"c":37,"v":0},{"r":49,"c":38,"v":0},{"r":49,"c":39,"v":0},{"r":49,"c":40,"v":0},{"r":49,"c":41,"v":0},{"r":49,"c":42,"v":0},{"r":49,"c":43,"v":0},{"r":49,"c":44,"v":0},{"r":49,"c":45,"v":0},{"r":49,"c":46,"v":0},{"r":49,"c":47,"v":0},{"r":49,"c":48,"v":0},{"r":49,"c":49,"v":0.85},{"r":49,"c":50,"v":0},{"r":49,"c":51,"v":0},{"r":49,"c":52,"v":0},
{"r":50,"c":0,"v":0},{"r":50,"c":1,"v":0},{"r":50,"c":2,"v":0},{"r":50,"c":3,"v":0},{"r":50,"c":4,"v":0},{"r":50,"c":5,"v":0},{"r":50,"c":6,"v":0},{"r":50,"c":7,"v":0},{"r":50,"c":8,"v":0},{"r":50,"c":9,"v":0},{"r":50,"c":10,"v":0},{"r":50,"c":11,"v":0},{"r":50,"c":12,"v":0},{"r":50,"c":13,"v":0},{"r":50,"c":14,"v":0},{"r":50,"c":15,"v":0},{"r":50,"c":16,"v":0},{"r":50,"c":17,"v":0},{"r":50,"c":18,"v":0},{"r":50,"c":19,"v":0},{"r":50,"c":20,"v":0},{"r":50,"c":21,"v":0},{"r":50,"c":22,"v":0},{"r":50,"c":23,"v":0},{"r":50,"c":24,"v":0},{"r":50,"c":25,"v":0},{"r":50,"c":26,"v":0},{"r":50,"c":27,"v":0},{"r":50,"c":28,"v":0},{"r":50,"c":29,"v":0},{"r":50,"c":30,"v":0},{"r":50,"c":31,"v":0},{"r":50,"c":32,"v":0},{"r":50,"c":33,"v":0},{"r":50,"c":34,"v":0},{"r":50,"c":35,"v":0},{"r":50,"c":36,"v":0},{"r":50,"c":37,"v":0},{"r":50,"c":38,"v":0},{"r":50,"c":39,"v":0},{"r":50,"c":40,"v":0},{"r":50,"c":41,"v":0},{"r":50,"c":42,"v":0},{"r":50,"c":43,"v":0},{"r":50,"c":44,"v":0},{"r":50,"c":45,"v":0},{"r":50,"c":46,"v":0},{"r":50,"c":47,"v":0},{"r":50,"c":48,"v":0},{"r":50,"c":49,"v":0},{"r":50,"c":50,"v":0.94},{"r":50,"c":51,"v":0},{"r":50,"c":52,"v":0},
{"r":51,"c":0,"v":0},{"r":51,"c":1,"v":0},{"r":51,"c":2,"v":0},{"r":51,"c":3,"v":0},{"r":51,"c":4,"v":0},{"r":51,"c":5,"v":0},{"r":51,"c":6,"v":0},{"r":51,"c":7,"v":0},{"r":51,"c":8,"v":0},{"r":51,"c":9,"v":0},{"r":51,"c":10,"v":0},{"r":51,"c":11,"v":0},{"r":51,"c":12,"v":0},{"r":51,"c":13,"v":0},{"r":51,"c":14,"v":0},{"r":51,"c":15,"v":0},{"r":51,"c":16,"v":0},{"r":51,"c":17,"v":0},{"r":51,"c":18,"v":0},{"r":51,"c":19,"v":0},{"r":51,"c":20,"v":0},{"r":51,"c":21,"v":0},{"r":51,"c":22,"v":0},{"r":51,"c":23,"v":0},{"r":51,"c":24,"v":0},{"r":51,"c":25,"v":0},{"r":51,"c":26,"v":0},{"r":51,"c":27,"v":0},{"r":51,"c":28,"v":0},{"r":51,"c":29,"v":0},{"r":51,"c":30,"v":0},{"r":51,"c":31,"v":0},{"r":51,"c":32,"v":0},{"r":51,"c":33,"v":0},{"r":51,"c":34,"v":0},{"r":51,"c":35,"v":0},{"r":51,"c":36,"v":0},{"r":51,"c":37,"v":0},{"r":51,"c":38,"v":0},{"r":51,"c":39,"v":0},{"r":51,"c":40,"v":0},{"r":51,"c":41,"v":0},{"r":51,"c":42,"v":0},{"r":51,"c":43,"v":0},{"r":51,"c":44,"v":0},{"r":51,"c":45,"v":0},{"r":51,"c":46,"v":0},{"r":51,"c":47,"v":0},{"r":51,"c":48,"v":0},{"r":51,"c":49,"v":0},{"r":51,"c":50,"v":0},{"r":51,"c":51,"v":0.88},{"r":51,"c":52,"v":0},
{"r":52,"c":0,"v":0},{"r":52,"c":1,"v":0},{"r":52,"c":2,"v":0},{"r":52,"c":3,"v":0},{"r":52,"c":4,"v":0},{"r":52,"c":5,"v":0},{"r":52,"c":6,"v":0},{"r":52,"c":7,"v":0},{"r":52,"c":8,"v":0},{"r":52,"c":9,"v":0},{"r":52,"c":10,"v":0},{"r":52,"c":11,"v":0},{"r":52,"c":12,"v":0},{"r":52,"c":13,"v":0},{"r":52,"c":14,"v":0},{"r":52,"c":15,"v":0},{"r":52,"c":16,"v":0},{"r":52,"c":17,"v":0},{"r":52,"c":18,"v":0},{"r":52,"c":19,"v":0},{"r":52,"c":20,"v":0},{"r":52,"c":21,"v":0},{"r":52,"c":22,"v":0},{"r":52,"c":23,"v":0},{"r":52,"c":24,"v":0},{"r":52,"c":25,"v":0},{"r":52,"c":26,"v":0},{"r":52,"c":27,"v":0},{"r":52,"c":28,"v":0},{"r":52,"c":29,"v":0},{"r":52,"c":30,"v":0},{"r":52,"c":31,"v":0},{"r":52,"c":32,"v":0},{"r":52,"c":33,"v":0},{"r":52,"c":34,"v":0},{"r":52,"c":35,"v":0},{"r":52,"c":36,"v":0},{"r":52,"c":37,"v":0},{"r":52,"c":38,"v":0},{"r":52,"c":39,"v":0},{"r":52,"c":40,"v":0},{"r":52,"c":41,"v":0},{"r":52,"c":42,"v":0},{"r":52,"c":43,"v":0},{"r":52,"c":44,"v":0},{"r":52,"c":45,"v":0},{"r":52,"c":46,"v":0},{"r":52,"c":47,"v":0},{"r":52,"c":48,"v":0},{"r":52,"c":49,"v":0},{"r":52,"c":50,"v":0},{"r":52,"c":51,"v":0},{"r":52,"c":52,"v":0.9}
]},
"mark":{"type":"rect","stroke":"white","strokeWidth":1,"strokeOpacity":0.45},
"encoding":{
"x":{"field":"c","type":"ordinal","sort":"ascending","scale":{"paddingInner":0,"paddingOuter":0},"axis":{"title":null,"values":[0,2,4,6,8,10,12,14,16,18,20,22,24,26,28,30,32,34,36,38,40,42,44,46,48,50,52],"labelAngle":0,"domain":false,"grid":false,"tickSize":4,"tickColor":"#000","tickWidth":1,"labelFontSize":11,"labelColor":"#000","labelFont":"DejaVu Sans","labelPadding":2}},
"y":{"field":"r","type":"ordinal","sort":"ascending","scale":{"paddingInner":0,"paddingOuter":0},"axis":{"title":null,"domain":false,"grid":false,"tickSize":4,"tickColor":"#000","tickWidth":1,"labelFontSize":11,"labelColor":"#000","labelFont":"DejaVu Sans","labelPadding":2}},
"color":{"field":"v","type":"quantitative","scale":{"domain":[0,0.1,0.2,0.4,0.6,0.8,1],"range":["#d1d5e0","#e7e7ed","#f6f2f2","#e6c2c1","#d28e8c","#bf615f","#a9363b"]},"legend":{"title":null,"orient":"none","legendX":664,"legendY":62,"direction":"vertical","gradientLength":492,"gradientThickness":22,"values":[0,0.2,0.4,0.6,0.8,1],"format":".1f","labelFontSize":11.5,"labelColor":"#000","labelFont":"DejaVu Sans","labelOffset":6,"gradientStrokeWidth":0}}
}}
